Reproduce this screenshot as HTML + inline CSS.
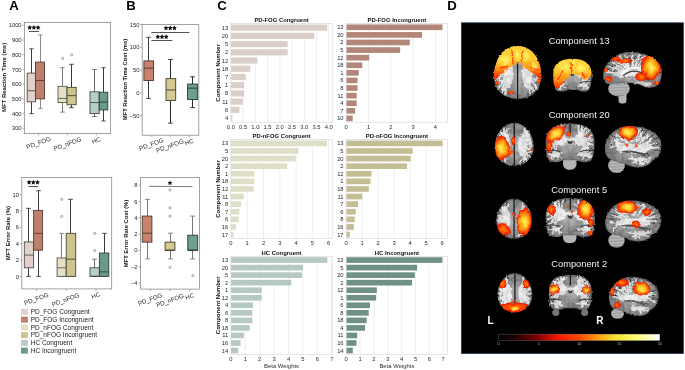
<!DOCTYPE html>
<html><head><meta charset="utf-8"><style>
html,body{margin:0;padding:0;background:#fff;width:685px;height:370px;overflow:hidden}
svg{display:block;opacity:0.999}
text{font-family:"Liberation Sans", sans-serif}
</style></head><body>
<svg width="685" height="370" viewBox="0 0 685 370">
<rect width="685" height="370" fill="#fff"/>
<text x="9.30" y="10.30" font-size="13.2" text-anchor="start" font-weight="bold" fill="#000">A</text>
<text x="126.30" y="10.30" font-size="13.2" text-anchor="start" font-weight="bold" fill="#000">B</text>
<text x="217.20" y="10.30" font-size="13.2" text-anchor="start" font-weight="bold" fill="#000">C</text>
<text x="447.20" y="10.30" font-size="13.2" text-anchor="start" font-weight="bold" fill="#000">D</text>
<rect x="24.40" y="22.40" width="86.20" height="111.00" fill="none" stroke="#8c8c8c" stroke-width="0.8"/>
<line x1="22.40" y1="128.30" x2="24.40" y2="128.30" stroke="#8c8c8c" stroke-width="0.7"/>
<text x="21.60" y="130.40" font-size="5.8" text-anchor="end" font-weight="normal" fill="#262626">300</text>
<line x1="22.40" y1="113.59" x2="24.40" y2="113.59" stroke="#8c8c8c" stroke-width="0.7"/>
<text x="21.60" y="115.69" font-size="5.8" text-anchor="end" font-weight="normal" fill="#262626">400</text>
<line x1="22.40" y1="98.87" x2="24.40" y2="98.87" stroke="#8c8c8c" stroke-width="0.7"/>
<text x="21.60" y="100.97" font-size="5.8" text-anchor="end" font-weight="normal" fill="#262626">500</text>
<line x1="22.40" y1="84.16" x2="24.40" y2="84.16" stroke="#8c8c8c" stroke-width="0.7"/>
<text x="21.60" y="86.26" font-size="5.8" text-anchor="end" font-weight="normal" fill="#262626">600</text>
<line x1="22.40" y1="69.44" x2="24.40" y2="69.44" stroke="#8c8c8c" stroke-width="0.7"/>
<text x="21.60" y="71.54" font-size="5.8" text-anchor="end" font-weight="normal" fill="#262626">700</text>
<line x1="22.40" y1="54.73" x2="24.40" y2="54.73" stroke="#8c8c8c" stroke-width="0.7"/>
<text x="21.60" y="56.83" font-size="5.8" text-anchor="end" font-weight="normal" fill="#262626">800</text>
<line x1="22.40" y1="40.02" x2="24.40" y2="40.02" stroke="#8c8c8c" stroke-width="0.7"/>
<text x="21.60" y="42.12" font-size="5.8" text-anchor="end" font-weight="normal" fill="#262626">900</text>
<line x1="22.40" y1="25.30" x2="24.40" y2="25.30" stroke="#8c8c8c" stroke-width="0.7"/>
<text x="21.60" y="27.40" font-size="5.8" text-anchor="end" font-weight="normal" fill="#262626">1000</text>
<line x1="38.40" y1="133.40" x2="38.40" y2="135.40" stroke="#8c8c8c" stroke-width="0.7"/>
<line x1="67.40" y1="133.40" x2="67.40" y2="135.40" stroke="#8c8c8c" stroke-width="0.7"/>
<line x1="96.30" y1="133.40" x2="96.30" y2="135.40" stroke="#8c8c8c" stroke-width="0.7"/>
<line x1="31.50" y1="73.12" x2="31.50" y2="48.84" stroke="#3a3a3a" stroke-width="1.0"/>
<line x1="31.50" y1="101.81" x2="31.50" y2="113.59" stroke="#3a3a3a" stroke-width="1.0"/>
<line x1="29.43" y1="48.84" x2="33.58" y2="48.84" stroke="#3a3a3a" stroke-width="0.9"/>
<line x1="29.43" y1="113.59" x2="33.58" y2="113.59" stroke="#3a3a3a" stroke-width="0.9"/>
<rect x="27.20" y="73.12" width="8.30" height="28.69" fill="#e2d1ca" stroke="#4d4d4d" stroke-width="0.9"/>
<line x1="27.20" y1="90.78" x2="35.50" y2="90.78" stroke="#4d4d4d" stroke-width="0.9"/>
<line x1="40.50" y1="62.09" x2="40.50" y2="34.87" stroke="#8a8a8a" stroke-width="1.0"/>
<line x1="40.50" y1="98.87" x2="40.50" y2="108.44" stroke="#8a8a8a" stroke-width="1.0"/>
<line x1="38.25" y1="34.87" x2="42.75" y2="34.87" stroke="#8a8a8a" stroke-width="0.9"/>
<line x1="38.25" y1="108.44" x2="42.75" y2="108.44" stroke="#8a8a8a" stroke-width="0.9"/>
<rect x="35.50" y="62.09" width="9.00" height="36.78" fill="#bd806d" stroke="#5a3a32" stroke-width="0.9"/>
<line x1="35.50" y1="80.48" x2="44.50" y2="80.48" stroke="#5a3a32" stroke-width="0.9"/>
<line x1="62.50" y1="86.37" x2="62.50" y2="67.68" stroke="#777" stroke-width="1.0"/>
<line x1="62.50" y1="102.55" x2="62.50" y2="112.11" stroke="#777" stroke-width="1.0"/>
<line x1="60.25" y1="67.68" x2="64.75" y2="67.68" stroke="#777" stroke-width="0.9"/>
<line x1="60.25" y1="112.11" x2="64.75" y2="112.11" stroke="#777" stroke-width="0.9"/>
<rect x="58.00" y="86.37" width="9.00" height="16.19" fill="#e3e0c6" stroke="#5a5a4a" stroke-width="0.9"/>
<line x1="58.00" y1="98.43" x2="67.00" y2="98.43" stroke="#5a5a4a" stroke-width="0.9"/>
<line x1="71.50" y1="87.40" x2="71.50" y2="64.29" stroke="#3a3a3a" stroke-width="1.0"/>
<line x1="71.50" y1="104.76" x2="71.50" y2="107.70" stroke="#3a3a3a" stroke-width="1.0"/>
<line x1="69.20" y1="64.29" x2="73.80" y2="64.29" stroke="#3a3a3a" stroke-width="0.9"/>
<line x1="69.20" y1="107.70" x2="73.80" y2="107.70" stroke="#3a3a3a" stroke-width="0.9"/>
<rect x="67.00" y="87.40" width="9.20" height="17.36" fill="#cdc58d" stroke="#4a4535" stroke-width="0.9"/>
<line x1="67.00" y1="95.63" x2="76.20" y2="95.63" stroke="#4a4535" stroke-width="0.9"/>
<circle cx="62.6" cy="58.41" r="1.1" fill="none" stroke="#555" stroke-width="0.5"/>
<circle cx="71.6" cy="54.73" r="1.1" fill="none" stroke="#555" stroke-width="0.5"/>
<line x1="94.50" y1="91.81" x2="94.50" y2="69.44" stroke="#666" stroke-width="1.0"/>
<line x1="94.50" y1="113.59" x2="94.50" y2="116.53" stroke="#666" stroke-width="1.0"/>
<line x1="92.20" y1="69.44" x2="96.80" y2="69.44" stroke="#666" stroke-width="0.9"/>
<line x1="92.20" y1="116.53" x2="96.80" y2="116.53" stroke="#666" stroke-width="0.9"/>
<rect x="90.00" y="91.81" width="9.20" height="21.78" fill="#b9cdc7" stroke="#3f4a47" stroke-width="0.9"/>
<line x1="90.00" y1="102.55" x2="99.20" y2="102.55" stroke="#3f4a47" stroke-width="0.9"/>
<line x1="103.50" y1="92.25" x2="103.50" y2="67.68" stroke="#3a3a3a" stroke-width="1.0"/>
<line x1="103.50" y1="109.91" x2="103.50" y2="120.94" stroke="#3a3a3a" stroke-width="1.0"/>
<line x1="101.35" y1="67.68" x2="105.65" y2="67.68" stroke="#3a3a3a" stroke-width="0.9"/>
<line x1="101.35" y1="120.94" x2="105.65" y2="120.94" stroke="#3a3a3a" stroke-width="0.9"/>
<rect x="99.20" y="92.25" width="8.60" height="17.66" fill="#6b9a8a" stroke="#2f3d38" stroke-width="0.9"/>
<line x1="99.20" y1="102.11" x2="107.80" y2="102.11" stroke="#2f3d38" stroke-width="0.9"/>
<polygon points="29.70,25.05 30.45,26.57 32.13,26.81 30.91,27.99 31.20,29.66 29.70,28.88 28.20,29.66 28.49,27.99 27.27,26.81 28.95,26.57" fill="#111"/>
<polygon points="33.90,25.05 34.65,26.57 36.33,26.81 35.11,27.99 35.40,29.66 33.90,28.88 32.40,29.66 32.69,27.99 31.47,26.81 33.15,26.57" fill="#111"/>
<polygon points="38.10,25.05 38.85,26.57 40.53,26.81 39.31,27.99 39.60,29.66 38.10,28.88 36.60,29.66 36.89,27.99 35.67,26.81 37.35,26.57" fill="#111"/>
<line x1="29.00" y1="31.50" x2="39.00" y2="31.50" stroke="#333" stroke-width="0.85"/>
<text x="5.70" y="77.50" font-size="6.0" text-anchor="middle" font-weight="bold" fill="#111" transform="rotate(-90 5.70 77.50)">MFT Reaction Time (ms)</text>
<text x="39.30" y="144.80" font-size="6.2" text-anchor="middle" font-weight="normal" fill="#262626" transform="rotate(-20 39.30 144.80)">PD_FOG</text>
<text x="68.20" y="145.90" font-size="6.2" text-anchor="middle" font-weight="normal" fill="#262626" transform="rotate(-20 68.20 145.90)">PD_nFOG</text>
<text x="96.90" y="142.40" font-size="6.2" text-anchor="middle" font-weight="normal" fill="#262626" transform="rotate(-20 96.90 142.40)">HC</text>
<rect x="21.80" y="177.40" width="89.90" height="111.50" fill="none" stroke="#8c8c8c" stroke-width="0.8"/>
<line x1="19.80" y1="276.40" x2="21.80" y2="276.40" stroke="#8c8c8c" stroke-width="0.7"/>
<text x="19.00" y="278.50" font-size="5.8" text-anchor="end" font-weight="normal" fill="#262626">0</text>
<line x1="19.80" y1="260.00" x2="21.80" y2="260.00" stroke="#8c8c8c" stroke-width="0.7"/>
<text x="19.00" y="262.10" font-size="5.8" text-anchor="end" font-weight="normal" fill="#262626">2</text>
<line x1="19.80" y1="243.60" x2="21.80" y2="243.60" stroke="#8c8c8c" stroke-width="0.7"/>
<text x="19.00" y="245.70" font-size="5.8" text-anchor="end" font-weight="normal" fill="#262626">4</text>
<line x1="19.80" y1="227.20" x2="21.80" y2="227.20" stroke="#8c8c8c" stroke-width="0.7"/>
<text x="19.00" y="229.30" font-size="5.8" text-anchor="end" font-weight="normal" fill="#262626">6</text>
<line x1="19.80" y1="210.80" x2="21.80" y2="210.80" stroke="#8c8c8c" stroke-width="0.7"/>
<text x="19.00" y="212.90" font-size="5.8" text-anchor="end" font-weight="normal" fill="#262626">8</text>
<line x1="19.80" y1="194.40" x2="21.80" y2="194.40" stroke="#8c8c8c" stroke-width="0.7"/>
<text x="19.00" y="196.50" font-size="5.8" text-anchor="end" font-weight="normal" fill="#262626">10</text>
<line x1="36.50" y1="288.90" x2="36.50" y2="290.90" stroke="#8c8c8c" stroke-width="0.7"/>
<line x1="66.20" y1="288.90" x2="66.20" y2="290.90" stroke="#8c8c8c" stroke-width="0.7"/>
<line x1="96.00" y1="288.90" x2="96.00" y2="290.90" stroke="#8c8c8c" stroke-width="0.7"/>
<line x1="28.50" y1="241.96" x2="28.50" y2="208.34" stroke="#3a3a3a" stroke-width="1.0"/>
<line x1="28.50" y1="267.79" x2="28.50" y2="276.40" stroke="#3a3a3a" stroke-width="1.0"/>
<line x1="26.18" y1="208.34" x2="30.82" y2="208.34" stroke="#3a3a3a" stroke-width="0.9"/>
<line x1="26.18" y1="276.40" x2="30.82" y2="276.40" stroke="#3a3a3a" stroke-width="0.9"/>
<rect x="24.30" y="241.96" width="9.30" height="25.83" fill="#e2d1ca" stroke="#4d4d4d" stroke-width="0.9"/>
<line x1="24.30" y1="255.08" x2="33.60" y2="255.08" stroke="#4d4d4d" stroke-width="0.9"/>
<line x1="38.50" y1="210.39" x2="38.50" y2="190.71" stroke="#3a3a3a" stroke-width="1.0"/>
<line x1="38.50" y1="250.16" x2="38.50" y2="276.40" stroke="#3a3a3a" stroke-width="1.0"/>
<line x1="36.25" y1="190.71" x2="40.75" y2="190.71" stroke="#3a3a3a" stroke-width="0.9"/>
<line x1="36.25" y1="276.40" x2="40.75" y2="276.40" stroke="#3a3a3a" stroke-width="0.9"/>
<rect x="33.60" y="210.39" width="9.00" height="39.77" fill="#bd806d" stroke="#5a3a32" stroke-width="0.9"/>
<line x1="33.60" y1="233.35" x2="42.60" y2="233.35" stroke="#5a3a32" stroke-width="0.9"/>
<line x1="61.50" y1="257.95" x2="61.50" y2="233.35" stroke="#777" stroke-width="1.0"/>
<line x1="61.50" y1="276.40" x2="61.50" y2="276.40" stroke="#777" stroke-width="1.0"/>
<line x1="59.23" y1="233.35" x2="63.77" y2="233.35" stroke="#777" stroke-width="0.9"/>
<line x1="59.23" y1="276.40" x2="63.77" y2="276.40" stroke="#777" stroke-width="0.9"/>
<rect x="57.10" y="257.95" width="9.10" height="18.45" fill="#e3e0c6" stroke="#5a5a4a" stroke-width="0.9"/>
<line x1="57.10" y1="267.79" x2="66.20" y2="267.79" stroke="#5a5a4a" stroke-width="0.9"/>
<circle cx="61.7" cy="216.54" r="1.1" fill="none" stroke="#555" stroke-width="0.5"/>
<circle cx="61.7" cy="199.32" r="1.1" fill="none" stroke="#555" stroke-width="0.5"/>
<line x1="70.50" y1="233.35" x2="70.50" y2="199.32" stroke="#3a3a3a" stroke-width="1.0"/>
<line x1="70.50" y1="276.40" x2="70.50" y2="276.40" stroke="#3a3a3a" stroke-width="1.0"/>
<line x1="68.12" y1="199.32" x2="72.88" y2="199.32" stroke="#3a3a3a" stroke-width="0.9"/>
<line x1="68.12" y1="276.40" x2="72.88" y2="276.40" stroke="#3a3a3a" stroke-width="0.9"/>
<rect x="66.20" y="233.35" width="9.50" height="43.05" fill="#cdc58d" stroke="#4a4535" stroke-width="0.9"/>
<line x1="66.20" y1="259.18" x2="75.70" y2="259.18" stroke="#4a4535" stroke-width="0.9"/>
<line x1="94.50" y1="267.79" x2="94.50" y2="259.18" stroke="#666" stroke-width="1.0"/>
<line x1="94.50" y1="276.40" x2="94.50" y2="276.40" stroke="#666" stroke-width="1.0"/>
<line x1="92.15" y1="259.18" x2="96.85" y2="259.18" stroke="#666" stroke-width="0.9"/>
<line x1="92.15" y1="276.40" x2="96.85" y2="276.40" stroke="#666" stroke-width="0.9"/>
<rect x="90.00" y="267.79" width="9.40" height="8.61" fill="#b9cdc7" stroke="#3f4a47" stroke-width="0.9"/>
<line x1="90.00" y1="276.24" x2="99.40" y2="276.24" stroke="#3f4a47" stroke-width="0.9"/>
<circle cx="94.7" cy="250.57" r="1.1" fill="none" stroke="#555" stroke-width="0.5"/>
<circle cx="94.7" cy="233.35" r="1.1" fill="none" stroke="#555" stroke-width="0.5"/>
<line x1="104.50" y1="253.03" x2="104.50" y2="233.35" stroke="#3a3a3a" stroke-width="1.0"/>
<line x1="104.50" y1="276.40" x2="104.50" y2="276.40" stroke="#3a3a3a" stroke-width="1.0"/>
<line x1="102.15" y1="233.35" x2="106.85" y2="233.35" stroke="#3a3a3a" stroke-width="0.9"/>
<line x1="102.15" y1="276.40" x2="106.85" y2="276.40" stroke="#3a3a3a" stroke-width="0.9"/>
<rect x="99.40" y="253.03" width="9.40" height="23.37" fill="#6b9a8a" stroke="#2f3d38" stroke-width="0.9"/>
<line x1="99.40" y1="271.89" x2="108.80" y2="271.89" stroke="#2f3d38" stroke-width="0.9"/>
<polygon points="29.10,179.85 29.85,181.37 31.53,181.61 30.31,182.79 30.60,184.46 29.10,183.68 27.60,184.46 27.89,182.79 26.67,181.61 28.35,181.37" fill="#111"/>
<polygon points="33.30,179.85 34.05,181.37 35.73,181.61 34.51,182.79 34.80,184.46 33.30,183.68 31.80,184.46 32.09,182.79 30.87,181.61 32.55,181.37" fill="#111"/>
<polygon points="37.50,179.85 38.25,181.37 39.93,181.61 38.71,182.79 39.00,184.46 37.50,183.68 36.00,184.46 36.29,182.79 35.07,181.61 36.75,181.37" fill="#111"/>
<line x1="28.40" y1="186.50" x2="38.10" y2="186.50" stroke="#333" stroke-width="0.85"/>
<text x="9.90" y="233.20" font-size="6.0" text-anchor="middle" font-weight="bold" fill="#111" transform="rotate(-90 9.90 233.20)">MFT Error Rate (%)</text>
<text x="37.00" y="300.80" font-size="6.2" text-anchor="middle" font-weight="normal" fill="#262626" transform="rotate(-20 37.00 300.80)">PD_FOG</text>
<text x="66.30" y="301.70" font-size="6.2" text-anchor="middle" font-weight="normal" fill="#262626" transform="rotate(-20 66.30 301.70)">PD_nFOG</text>
<text x="96.50" y="297.60" font-size="6.2" text-anchor="middle" font-weight="normal" fill="#262626" transform="rotate(-20 96.50 297.60)">HC</text>
<rect x="21.00" y="308.90" width="6.90" height="6.00" fill="#e2d1ca" stroke="none" stroke-width="0"/>
<text x="30.70" y="314.20" font-size="6.5" text-anchor="start" font-weight="normal" fill="#222">PD_FOG Congruent</text>
<rect x="21.00" y="316.64" width="6.90" height="6.00" fill="#c07f6c" stroke="none" stroke-width="0"/>
<text x="30.70" y="321.94" font-size="6.5" text-anchor="start" font-weight="normal" fill="#222">PD_FOG Incongruent</text>
<rect x="21.00" y="324.38" width="6.90" height="6.00" fill="#e3e0c6" stroke="none" stroke-width="0"/>
<text x="30.70" y="329.68" font-size="6.5" text-anchor="start" font-weight="normal" fill="#222">PD_nFOG Congruent</text>
<rect x="21.00" y="332.12" width="6.90" height="6.00" fill="#cdc58d" stroke="none" stroke-width="0"/>
<text x="30.70" y="337.42" font-size="6.5" text-anchor="start" font-weight="normal" fill="#222">PD_nFOG Incongruent</text>
<rect x="21.00" y="339.86" width="6.90" height="6.00" fill="#b9cdc7" stroke="none" stroke-width="0"/>
<text x="30.70" y="345.16" font-size="6.5" text-anchor="start" font-weight="normal" fill="#222">HC Congruent</text>
<rect x="21.00" y="347.60" width="6.90" height="6.00" fill="#6b9a8a" stroke="none" stroke-width="0"/>
<text x="30.70" y="352.90" font-size="6.5" text-anchor="start" font-weight="normal" fill="#222">HC Incongruent</text>
<rect x="142.20" y="24.40" width="56.60" height="110.80" fill="none" stroke="#8c8c8c" stroke-width="0.8"/>
<line x1="140.20" y1="115.40" x2="142.20" y2="115.40" stroke="#8c8c8c" stroke-width="0.7"/>
<text x="139.40" y="117.50" font-size="5.8" text-anchor="end" font-weight="normal" fill="#262626">−50</text>
<line x1="140.20" y1="92.70" x2="142.20" y2="92.70" stroke="#8c8c8c" stroke-width="0.7"/>
<text x="139.40" y="94.80" font-size="5.8" text-anchor="end" font-weight="normal" fill="#262626">0</text>
<line x1="140.20" y1="70.00" x2="142.20" y2="70.00" stroke="#8c8c8c" stroke-width="0.7"/>
<text x="139.40" y="72.10" font-size="5.8" text-anchor="end" font-weight="normal" fill="#262626">50</text>
<line x1="140.20" y1="47.30" x2="142.20" y2="47.30" stroke="#8c8c8c" stroke-width="0.7"/>
<text x="139.40" y="49.40" font-size="5.8" text-anchor="end" font-weight="normal" fill="#262626">100</text>
<line x1="140.20" y1="24.60" x2="142.20" y2="24.60" stroke="#8c8c8c" stroke-width="0.7"/>
<text x="139.40" y="26.70" font-size="5.8" text-anchor="end" font-weight="normal" fill="#262626">150</text>
<line x1="151.80" y1="135.20" x2="151.80" y2="137.20" stroke="#8c8c8c" stroke-width="0.7"/>
<line x1="170.40" y1="135.20" x2="170.40" y2="137.20" stroke="#8c8c8c" stroke-width="0.7"/>
<line x1="189.40" y1="135.20" x2="189.40" y2="137.20" stroke="#8c8c8c" stroke-width="0.7"/>
<line x1="148.50" y1="60.92" x2="148.50" y2="37.31" stroke="#3a3a3a" stroke-width="1.0"/>
<line x1="148.50" y1="80.44" x2="148.50" y2="98.60" stroke="#3a3a3a" stroke-width="1.0"/>
<line x1="146.07" y1="37.31" x2="150.93" y2="37.31" stroke="#3a3a3a" stroke-width="0.9"/>
<line x1="146.07" y1="98.60" x2="150.93" y2="98.60" stroke="#3a3a3a" stroke-width="0.9"/>
<rect x="143.90" y="60.92" width="9.70" height="19.52" fill="#c8826e" stroke="#4a3530" stroke-width="0.9"/>
<line x1="143.90" y1="68.18" x2="153.60" y2="68.18" stroke="#4a3530" stroke-width="0.9"/>
<line x1="170.50" y1="78.63" x2="170.50" y2="59.56" stroke="#2a2a2a" stroke-width="1.0"/>
<line x1="170.50" y1="100.42" x2="170.50" y2="123.12" stroke="#2a2a2a" stroke-width="1.0"/>
<line x1="168.07" y1="59.56" x2="172.93" y2="59.56" stroke="#2a2a2a" stroke-width="0.9"/>
<line x1="168.07" y1="123.12" x2="172.93" y2="123.12" stroke="#2a2a2a" stroke-width="0.9"/>
<rect x="166.00" y="78.63" width="9.70" height="21.79" fill="#d5ca8f" stroke="#3f3b2b" stroke-width="0.9"/>
<line x1="166.00" y1="89.98" x2="175.70" y2="89.98" stroke="#3f3b2b" stroke-width="0.9"/>
<line x1="192.50" y1="84.07" x2="192.50" y2="76.81" stroke="#2a2a2a" stroke-width="1.0"/>
<line x1="192.50" y1="99.51" x2="192.50" y2="107.68" stroke="#2a2a2a" stroke-width="1.0"/>
<line x1="190.05" y1="76.81" x2="194.95" y2="76.81" stroke="#2a2a2a" stroke-width="0.9"/>
<line x1="190.05" y1="107.68" x2="194.95" y2="107.68" stroke="#2a2a2a" stroke-width="0.9"/>
<rect x="187.60" y="84.07" width="9.80" height="15.44" fill="#6fa08e" stroke="#26352f" stroke-width="0.9"/>
<line x1="187.60" y1="88.16" x2="197.40" y2="88.16" stroke="#26352f" stroke-width="0.9"/>
<line x1="151.40" y1="32.50" x2="189.40" y2="32.50" stroke="#333" stroke-width="0.85"/>
<polygon points="166.00,25.55 166.75,27.07 168.43,27.31 167.21,28.49 167.50,30.16 166.00,29.38 164.50,30.16 164.79,28.49 163.57,27.31 165.25,27.07" fill="#111"/>
<polygon points="170.20,25.55 170.95,27.07 172.63,27.31 171.41,28.49 171.70,30.16 170.20,29.38 168.70,30.16 168.99,28.49 167.77,27.31 169.45,27.07" fill="#111"/>
<polygon points="174.40,25.55 175.15,27.07 176.83,27.31 175.61,28.49 175.90,30.16 174.40,29.38 172.90,30.16 173.19,28.49 171.97,27.31 173.65,27.07" fill="#111"/>
<line x1="151.40" y1="40.50" x2="172.30" y2="40.50" stroke="#333" stroke-width="0.85"/>
<polygon points="157.80,34.35 158.55,35.87 160.23,36.11 159.01,37.29 159.30,38.96 157.80,38.17 156.30,38.96 156.59,37.29 155.37,36.11 157.05,35.87" fill="#111"/>
<polygon points="162.00,34.35 162.75,35.87 164.43,36.11 163.21,37.29 163.50,38.96 162.00,38.17 160.50,38.96 160.79,37.29 159.57,36.11 161.25,35.87" fill="#111"/>
<polygon points="166.20,34.35 166.95,35.87 168.63,36.11 167.41,37.29 167.70,38.96 166.20,38.17 164.70,38.96 164.99,37.29 163.77,36.11 165.45,35.87" fill="#111"/>
<text x="127.00" y="79.50" font-size="5.8" text-anchor="middle" font-weight="bold" fill="#111" transform="rotate(-90 127.00 79.50)">MFT Reaction Time Cost (ms)</text>
<text x="152.00" y="146.30" font-size="6.2" text-anchor="middle" font-weight="normal" fill="#262626" transform="rotate(-20 152.00 146.30)">PD_FOG</text>
<text x="170.60" y="147.80" font-size="6.2" text-anchor="middle" font-weight="normal" fill="#262626" transform="rotate(-20 170.60 147.80)">PD_nFOG</text>
<text x="189.90" y="144.00" font-size="6.2" text-anchor="middle" font-weight="normal" fill="#262626" transform="rotate(-20 189.90 144.00)">HC</text>
<rect x="140.40" y="177.60" width="59.20" height="111.50" fill="none" stroke="#8c8c8c" stroke-width="0.8"/>
<line x1="138.40" y1="282.90" x2="140.40" y2="282.90" stroke="#8c8c8c" stroke-width="0.7"/>
<text x="137.60" y="285.00" font-size="5.8" text-anchor="end" font-weight="normal" fill="#262626">−4</text>
<line x1="138.40" y1="266.60" x2="140.40" y2="266.60" stroke="#8c8c8c" stroke-width="0.7"/>
<text x="137.60" y="268.70" font-size="5.8" text-anchor="end" font-weight="normal" fill="#262626">−2</text>
<line x1="138.40" y1="250.30" x2="140.40" y2="250.30" stroke="#8c8c8c" stroke-width="0.7"/>
<text x="137.60" y="252.40" font-size="5.8" text-anchor="end" font-weight="normal" fill="#262626">0</text>
<line x1="138.40" y1="234.00" x2="140.40" y2="234.00" stroke="#8c8c8c" stroke-width="0.7"/>
<text x="137.60" y="236.10" font-size="5.8" text-anchor="end" font-weight="normal" fill="#262626">2</text>
<line x1="138.40" y1="217.70" x2="140.40" y2="217.70" stroke="#8c8c8c" stroke-width="0.7"/>
<text x="137.60" y="219.80" font-size="5.8" text-anchor="end" font-weight="normal" fill="#262626">4</text>
<line x1="138.40" y1="201.40" x2="140.40" y2="201.40" stroke="#8c8c8c" stroke-width="0.7"/>
<text x="137.60" y="203.50" font-size="5.8" text-anchor="end" font-weight="normal" fill="#262626">6</text>
<line x1="138.40" y1="185.10" x2="140.40" y2="185.10" stroke="#8c8c8c" stroke-width="0.7"/>
<text x="137.60" y="187.20" font-size="5.8" text-anchor="end" font-weight="normal" fill="#262626">8</text>
<line x1="150.50" y1="289.10" x2="150.50" y2="291.10" stroke="#8c8c8c" stroke-width="0.7"/>
<line x1="170.30" y1="289.10" x2="170.30" y2="291.10" stroke="#8c8c8c" stroke-width="0.7"/>
<line x1="189.80" y1="289.10" x2="189.80" y2="291.10" stroke="#8c8c8c" stroke-width="0.7"/>
<line x1="147.50" y1="216.07" x2="147.50" y2="199.36" stroke="#777" stroke-width="1.0"/>
<line x1="147.50" y1="242.15" x2="147.50" y2="258.86" stroke="#777" stroke-width="1.0"/>
<line x1="145.07" y1="199.36" x2="149.93" y2="199.36" stroke="#777" stroke-width="0.9"/>
<line x1="145.07" y1="258.86" x2="149.93" y2="258.86" stroke="#777" stroke-width="0.9"/>
<rect x="142.20" y="216.07" width="9.70" height="26.08" fill="#c8826e" stroke="#4a3530" stroke-width="0.9"/>
<line x1="142.20" y1="233.19" x2="151.90" y2="233.19" stroke="#4a3530" stroke-width="0.9"/>
<line x1="170.50" y1="242.15" x2="170.50" y2="233.19" stroke="#777" stroke-width="1.0"/>
<line x1="170.50" y1="250.30" x2="170.50" y2="258.86" stroke="#777" stroke-width="1.0"/>
<line x1="168.05" y1="233.19" x2="172.95" y2="233.19" stroke="#777" stroke-width="0.9"/>
<line x1="168.05" y1="258.86" x2="172.95" y2="258.86" stroke="#777" stroke-width="0.9"/>
<rect x="165.10" y="242.15" width="9.80" height="8.15" fill="#d5ca8f" stroke="#3f3b2b" stroke-width="0.9"/>
<line x1="165.10" y1="250.14" x2="174.90" y2="250.14" stroke="#3f3b2b" stroke-width="0.9"/>
<circle cx="170.0" cy="189.99" r="1.1" fill="none" stroke="#555" stroke-width="0.5"/>
<circle cx="170.0" cy="207.92" r="1.1" fill="none" stroke="#555" stroke-width="0.5"/>
<circle cx="170.0" cy="216.07" r="1.1" fill="none" stroke="#555" stroke-width="0.5"/>
<circle cx="170.0" cy="267.42" r="1.1" fill="none" stroke="#555" stroke-width="0.5"/>
<line x1="192.50" y1="235.22" x2="192.50" y2="216.07" stroke="#777" stroke-width="1.0"/>
<line x1="192.50" y1="250.30" x2="192.50" y2="258.86" stroke="#777" stroke-width="1.0"/>
<line x1="190.03" y1="216.07" x2="194.97" y2="216.07" stroke="#777" stroke-width="0.9"/>
<line x1="190.03" y1="258.86" x2="194.97" y2="258.86" stroke="#777" stroke-width="0.9"/>
<rect x="187.80" y="235.22" width="9.90" height="15.08" fill="#6fa08e" stroke="#26352f" stroke-width="0.9"/>
<line x1="187.80" y1="250.14" x2="197.70" y2="250.14" stroke="#26352f" stroke-width="0.9"/>
<circle cx="192.8" cy="275.56" r="1.1" fill="none" stroke="#555" stroke-width="0.5"/>
<line x1="149.10" y1="186.30" x2="192.50" y2="186.60" stroke="#555" stroke-width="0.8"/>
<polygon points="170.00,180.45 170.75,181.97 172.43,182.21 171.21,183.39 171.50,185.06 170.00,184.28 168.50,185.06 168.79,183.39 167.57,182.21 169.25,181.97" fill="#111"/>
<text x="127.60" y="233.50" font-size="5.85" text-anchor="middle" font-weight="bold" fill="#111" transform="rotate(-90 127.60 233.50)">MFT Error Rate Cost (%)</text>
<text x="150.90" y="301.30" font-size="6.2" text-anchor="middle" font-weight="normal" fill="#262626" transform="rotate(-20 150.90 301.30)">PD_FOG</text>
<text x="170.80" y="302.40" font-size="6.2" text-anchor="middle" font-weight="normal" fill="#262626" transform="rotate(-20 170.80 302.40)">PD_nFOG</text>
<text x="190.50" y="298.40" font-size="6.2" text-anchor="middle" font-weight="normal" fill="#262626" transform="rotate(-20 190.50 298.40)">HC</text>
<line x1="243.12" y1="23.50" x2="243.12" y2="122.20" stroke="#e6e6e6" stroke-width="0.7"/>
<line x1="255.35" y1="23.50" x2="255.35" y2="122.20" stroke="#e6e6e6" stroke-width="0.7"/>
<line x1="267.57" y1="23.50" x2="267.57" y2="122.20" stroke="#e6e6e6" stroke-width="0.7"/>
<line x1="279.80" y1="23.50" x2="279.80" y2="122.20" stroke="#e6e6e6" stroke-width="0.7"/>
<line x1="292.02" y1="23.50" x2="292.02" y2="122.20" stroke="#e6e6e6" stroke-width="0.7"/>
<line x1="304.25" y1="23.50" x2="304.25" y2="122.20" stroke="#e6e6e6" stroke-width="0.7"/>
<line x1="316.48" y1="23.50" x2="316.48" y2="122.20" stroke="#e6e6e6" stroke-width="0.7"/>
<line x1="328.70" y1="23.50" x2="328.70" y2="122.20" stroke="#e6e6e6" stroke-width="0.7"/>
<rect x="230.90" y="24.53" width="96.33" height="6.17" fill="#dccfca" stroke="none" stroke-width="0"/>
<text x="228.30" y="29.61" font-size="5.8" text-anchor="end" font-weight="normal" fill="#2b2b2b">13</text>
<rect x="230.90" y="32.75" width="83.37" height="6.17" fill="#dccfca" stroke="none" stroke-width="0"/>
<text x="228.30" y="37.84" font-size="5.8" text-anchor="end" font-weight="normal" fill="#2b2b2b">20</text>
<rect x="230.90" y="40.98" width="56.72" height="6.17" fill="#dccfca" stroke="none" stroke-width="0"/>
<text x="228.30" y="46.06" font-size="5.8" text-anchor="end" font-weight="normal" fill="#2b2b2b">5</text>
<rect x="230.90" y="49.20" width="56.72" height="6.17" fill="#dccfca" stroke="none" stroke-width="0"/>
<text x="228.30" y="54.29" font-size="5.8" text-anchor="end" font-weight="normal" fill="#2b2b2b">2</text>
<rect x="230.90" y="57.43" width="26.65" height="6.17" fill="#dccfca" stroke="none" stroke-width="0"/>
<text x="228.30" y="62.51" font-size="5.8" text-anchor="end" font-weight="normal" fill="#2b2b2b">12</text>
<rect x="230.90" y="65.65" width="19.32" height="6.17" fill="#dccfca" stroke="none" stroke-width="0"/>
<text x="228.30" y="70.74" font-size="5.8" text-anchor="end" font-weight="normal" fill="#2b2b2b">18</text>
<rect x="230.90" y="73.88" width="14.91" height="6.17" fill="#dccfca" stroke="none" stroke-width="0"/>
<text x="228.30" y="78.96" font-size="5.8" text-anchor="end" font-weight="normal" fill="#2b2b2b">7</text>
<rect x="230.90" y="82.10" width="13.20" height="6.17" fill="#dccfca" stroke="none" stroke-width="0"/>
<text x="228.30" y="87.19" font-size="5.8" text-anchor="end" font-weight="normal" fill="#2b2b2b">1</text>
<rect x="230.90" y="90.33" width="13.20" height="6.17" fill="#dccfca" stroke="none" stroke-width="0"/>
<text x="228.30" y="95.41" font-size="5.8" text-anchor="end" font-weight="normal" fill="#2b2b2b">8</text>
<rect x="230.90" y="98.55" width="11.98" height="6.17" fill="#dccfca" stroke="none" stroke-width="0"/>
<text x="228.30" y="103.64" font-size="5.8" text-anchor="end" font-weight="normal" fill="#2b2b2b">11</text>
<rect x="230.90" y="106.78" width="8.56" height="6.17" fill="#dccfca" stroke="none" stroke-width="0"/>
<text x="228.30" y="111.86" font-size="5.8" text-anchor="end" font-weight="normal" fill="#2b2b2b">6</text>
<rect x="230.90" y="115.00" width="1.47" height="6.17" fill="#dccfca" stroke="none" stroke-width="0"/>
<text x="228.30" y="120.09" font-size="5.8" text-anchor="end" font-weight="normal" fill="#2b2b2b">4</text>
<rect x="230.90" y="23.50" width="101.30" height="98.70" fill="none" stroke="#d9d9d9" stroke-width="0.7"/>
<text x="230.90" y="129.10" font-size="5.8" text-anchor="middle" font-weight="normal" fill="#2b2b2b">0.0</text>
<text x="243.12" y="129.10" font-size="5.8" text-anchor="middle" font-weight="normal" fill="#2b2b2b">0.5</text>
<text x="255.35" y="129.10" font-size="5.8" text-anchor="middle" font-weight="normal" fill="#2b2b2b">1.0</text>
<text x="267.57" y="129.10" font-size="5.8" text-anchor="middle" font-weight="normal" fill="#2b2b2b">1.5</text>
<text x="279.80" y="129.10" font-size="5.8" text-anchor="middle" font-weight="normal" fill="#2b2b2b">2.0</text>
<text x="292.02" y="129.10" font-size="5.8" text-anchor="middle" font-weight="normal" fill="#2b2b2b">2.5</text>
<text x="304.25" y="129.10" font-size="5.8" text-anchor="middle" font-weight="normal" fill="#2b2b2b">3.0</text>
<text x="316.48" y="129.10" font-size="5.8" text-anchor="middle" font-weight="normal" fill="#2b2b2b">3.5</text>
<text x="328.70" y="129.10" font-size="5.8" text-anchor="middle" font-weight="normal" fill="#2b2b2b">4.0</text>
<text x="281.55" y="22.00" font-size="5.9" text-anchor="middle" font-weight="bold" fill="#111">PD-FOG Congruent</text>
<line x1="368.50" y1="23.50" x2="368.50" y2="122.20" stroke="#e6e6e6" stroke-width="0.7"/>
<line x1="390.80" y1="23.50" x2="390.80" y2="122.20" stroke="#e6e6e6" stroke-width="0.7"/>
<line x1="413.10" y1="23.50" x2="413.10" y2="122.20" stroke="#e6e6e6" stroke-width="0.7"/>
<line x1="435.40" y1="23.50" x2="435.40" y2="122.20" stroke="#e6e6e6" stroke-width="0.7"/>
<rect x="346.20" y="24.45" width="96.34" height="5.69" fill="#b28779" stroke="none" stroke-width="0"/>
<text x="343.60" y="29.30" font-size="5.8" text-anchor="end" font-weight="normal" fill="#2b2b2b">13</text>
<rect x="346.20" y="32.04" width="75.82" height="5.69" fill="#b28779" stroke="none" stroke-width="0"/>
<text x="343.60" y="36.89" font-size="5.8" text-anchor="end" font-weight="normal" fill="#2b2b2b">20</text>
<rect x="346.20" y="39.63" width="63.56" height="5.69" fill="#b28779" stroke="none" stroke-width="0"/>
<text x="343.60" y="44.48" font-size="5.8" text-anchor="end" font-weight="normal" fill="#2b2b2b">2</text>
<rect x="346.20" y="47.23" width="53.97" height="5.69" fill="#b28779" stroke="none" stroke-width="0"/>
<text x="343.60" y="52.07" font-size="5.8" text-anchor="end" font-weight="normal" fill="#2b2b2b">5</text>
<rect x="346.20" y="54.82" width="22.97" height="5.69" fill="#b28779" stroke="none" stroke-width="0"/>
<text x="343.60" y="59.67" font-size="5.8" text-anchor="end" font-weight="normal" fill="#2b2b2b">12</text>
<rect x="346.20" y="62.41" width="16.06" height="5.69" fill="#b28779" stroke="none" stroke-width="0"/>
<text x="343.60" y="67.26" font-size="5.8" text-anchor="end" font-weight="normal" fill="#2b2b2b">18</text>
<rect x="346.20" y="70.00" width="12.49" height="5.69" fill="#b28779" stroke="none" stroke-width="0"/>
<text x="343.60" y="74.85" font-size="5.8" text-anchor="end" font-weight="normal" fill="#2b2b2b">1</text>
<rect x="346.20" y="77.60" width="11.37" height="5.69" fill="#b28779" stroke="none" stroke-width="0"/>
<text x="343.60" y="82.44" font-size="5.8" text-anchor="end" font-weight="normal" fill="#2b2b2b">6</text>
<rect x="346.20" y="85.19" width="11.37" height="5.69" fill="#b28779" stroke="none" stroke-width="0"/>
<text x="343.60" y="90.03" font-size="5.8" text-anchor="end" font-weight="normal" fill="#2b2b2b">8</text>
<rect x="346.20" y="92.78" width="10.48" height="5.69" fill="#b28779" stroke="none" stroke-width="0"/>
<text x="343.60" y="97.63" font-size="5.8" text-anchor="end" font-weight="normal" fill="#2b2b2b">11</text>
<rect x="346.20" y="100.37" width="10.48" height="5.69" fill="#b28779" stroke="none" stroke-width="0"/>
<text x="343.60" y="105.22" font-size="5.8" text-anchor="end" font-weight="normal" fill="#2b2b2b">4</text>
<rect x="346.20" y="107.96" width="8.92" height="5.69" fill="#b28779" stroke="none" stroke-width="0"/>
<text x="343.60" y="112.81" font-size="5.8" text-anchor="end" font-weight="normal" fill="#2b2b2b">7</text>
<rect x="346.20" y="115.56" width="6.47" height="5.69" fill="#b28779" stroke="none" stroke-width="0"/>
<text x="343.60" y="120.40" font-size="5.8" text-anchor="end" font-weight="normal" fill="#2b2b2b">10</text>
<rect x="346.20" y="23.50" width="101.40" height="98.70" fill="none" stroke="#d9d9d9" stroke-width="0.7"/>
<text x="346.20" y="129.10" font-size="5.8" text-anchor="middle" font-weight="normal" fill="#2b2b2b">0</text>
<text x="368.50" y="129.10" font-size="5.8" text-anchor="middle" font-weight="normal" fill="#2b2b2b">1</text>
<text x="390.80" y="129.10" font-size="5.8" text-anchor="middle" font-weight="normal" fill="#2b2b2b">2</text>
<text x="413.10" y="129.10" font-size="5.8" text-anchor="middle" font-weight="normal" fill="#2b2b2b">3</text>
<text x="435.40" y="129.10" font-size="5.8" text-anchor="middle" font-weight="normal" fill="#2b2b2b">4</text>
<text x="396.90" y="22.00" font-size="5.9" text-anchor="middle" font-weight="bold" fill="#111">PD-FOG Incongruent</text>
<line x1="247.20" y1="139.60" x2="247.20" y2="238.30" stroke="#e6e6e6" stroke-width="0.7"/>
<line x1="263.50" y1="139.60" x2="263.50" y2="238.30" stroke="#e6e6e6" stroke-width="0.7"/>
<line x1="279.80" y1="139.60" x2="279.80" y2="238.30" stroke="#e6e6e6" stroke-width="0.7"/>
<line x1="296.10" y1="139.60" x2="296.10" y2="238.30" stroke="#e6e6e6" stroke-width="0.7"/>
<line x1="312.40" y1="139.60" x2="312.40" y2="238.30" stroke="#e6e6e6" stroke-width="0.7"/>
<line x1="328.70" y1="139.60" x2="328.70" y2="238.30" stroke="#e6e6e6" stroke-width="0.7"/>
<rect x="230.90" y="140.55" width="96.17" height="5.69" fill="#dfdec8" stroke="none" stroke-width="0"/>
<text x="228.30" y="145.40" font-size="5.8" text-anchor="end" font-weight="normal" fill="#2b2b2b">13</text>
<rect x="230.90" y="148.14" width="67.65" height="5.69" fill="#dfdec8" stroke="none" stroke-width="0"/>
<text x="228.30" y="152.99" font-size="5.8" text-anchor="end" font-weight="normal" fill="#2b2b2b">5</text>
<rect x="230.90" y="155.73" width="64.79" height="5.69" fill="#dfdec8" stroke="none" stroke-width="0"/>
<text x="228.30" y="160.58" font-size="5.8" text-anchor="end" font-weight="normal" fill="#2b2b2b">20</text>
<rect x="230.90" y="163.33" width="56.24" height="5.69" fill="#dfdec8" stroke="none" stroke-width="0"/>
<text x="228.30" y="168.17" font-size="5.8" text-anchor="end" font-weight="normal" fill="#2b2b2b">2</text>
<rect x="230.90" y="170.92" width="23.55" height="5.69" fill="#dfdec8" stroke="none" stroke-width="0"/>
<text x="228.30" y="175.77" font-size="5.8" text-anchor="end" font-weight="normal" fill="#2b2b2b">1</text>
<rect x="230.90" y="178.51" width="23.55" height="5.69" fill="#dfdec8" stroke="none" stroke-width="0"/>
<text x="228.30" y="183.36" font-size="5.8" text-anchor="end" font-weight="normal" fill="#2b2b2b">18</text>
<rect x="230.90" y="186.10" width="22.90" height="5.69" fill="#dfdec8" stroke="none" stroke-width="0"/>
<text x="228.30" y="190.95" font-size="5.8" text-anchor="end" font-weight="normal" fill="#2b2b2b">12</text>
<rect x="230.90" y="193.70" width="12.91" height="5.69" fill="#dfdec8" stroke="none" stroke-width="0"/>
<text x="228.30" y="198.54" font-size="5.8" text-anchor="end" font-weight="normal" fill="#2b2b2b">11</text>
<rect x="230.90" y="201.29" width="10.15" height="5.69" fill="#dfdec8" stroke="none" stroke-width="0"/>
<text x="228.30" y="206.13" font-size="5.8" text-anchor="end" font-weight="normal" fill="#2b2b2b">8</text>
<rect x="230.90" y="208.88" width="8.56" height="5.69" fill="#dfdec8" stroke="none" stroke-width="0"/>
<text x="228.30" y="213.73" font-size="5.8" text-anchor="end" font-weight="normal" fill="#2b2b2b">7</text>
<rect x="230.90" y="216.47" width="7.74" height="5.69" fill="#dfdec8" stroke="none" stroke-width="0"/>
<text x="228.30" y="221.32" font-size="5.8" text-anchor="end" font-weight="normal" fill="#2b2b2b">6</text>
<rect x="230.90" y="224.06" width="5.17" height="5.69" fill="#dfdec8" stroke="none" stroke-width="0"/>
<text x="228.30" y="228.91" font-size="5.8" text-anchor="end" font-weight="normal" fill="#2b2b2b">16</text>
<rect x="230.90" y="231.66" width="2.74" height="5.69" fill="#dfdec8" stroke="none" stroke-width="0"/>
<text x="228.30" y="236.50" font-size="5.8" text-anchor="end" font-weight="normal" fill="#2b2b2b">17</text>
<rect x="230.90" y="139.60" width="101.30" height="98.70" fill="none" stroke="#d9d9d9" stroke-width="0.7"/>
<text x="230.90" y="245.20" font-size="5.8" text-anchor="middle" font-weight="normal" fill="#2b2b2b">0</text>
<text x="247.20" y="245.20" font-size="5.8" text-anchor="middle" font-weight="normal" fill="#2b2b2b">1</text>
<text x="263.50" y="245.20" font-size="5.8" text-anchor="middle" font-weight="normal" fill="#2b2b2b">2</text>
<text x="279.80" y="245.20" font-size="5.8" text-anchor="middle" font-weight="normal" fill="#2b2b2b">3</text>
<text x="296.10" y="245.20" font-size="5.8" text-anchor="middle" font-weight="normal" fill="#2b2b2b">4</text>
<text x="312.40" y="245.20" font-size="5.8" text-anchor="middle" font-weight="normal" fill="#2b2b2b">5</text>
<text x="328.70" y="245.20" font-size="5.8" text-anchor="middle" font-weight="normal" fill="#2b2b2b">6</text>
<text x="281.55" y="138.10" font-size="5.9" text-anchor="middle" font-weight="bold" fill="#111">PD-nFOG Congruent</text>
<line x1="362.18" y1="139.60" x2="362.18" y2="238.30" stroke="#e6e6e6" stroke-width="0.7"/>
<line x1="378.16" y1="139.60" x2="378.16" y2="238.30" stroke="#e6e6e6" stroke-width="0.7"/>
<line x1="394.14" y1="139.60" x2="394.14" y2="238.30" stroke="#e6e6e6" stroke-width="0.7"/>
<line x1="410.12" y1="139.60" x2="410.12" y2="238.30" stroke="#e6e6e6" stroke-width="0.7"/>
<line x1="426.10" y1="139.60" x2="426.10" y2="238.30" stroke="#e6e6e6" stroke-width="0.7"/>
<line x1="442.08" y1="139.60" x2="442.08" y2="238.30" stroke="#e6e6e6" stroke-width="0.7"/>
<rect x="346.20" y="140.55" width="96.36" height="5.69" fill="#c3be94" stroke="none" stroke-width="0"/>
<text x="343.60" y="145.40" font-size="5.8" text-anchor="end" font-weight="normal" fill="#2b2b2b">13</text>
<rect x="346.20" y="148.14" width="66.48" height="5.69" fill="#c3be94" stroke="none" stroke-width="0"/>
<text x="343.60" y="152.99" font-size="5.8" text-anchor="end" font-weight="normal" fill="#2b2b2b">5</text>
<rect x="346.20" y="155.73" width="64.56" height="5.69" fill="#c3be94" stroke="none" stroke-width="0"/>
<text x="343.60" y="160.58" font-size="5.8" text-anchor="end" font-weight="normal" fill="#2b2b2b">20</text>
<rect x="346.20" y="163.33" width="60.88" height="5.69" fill="#c3be94" stroke="none" stroke-width="0"/>
<text x="343.60" y="168.17" font-size="5.8" text-anchor="end" font-weight="normal" fill="#2b2b2b">2</text>
<rect x="346.20" y="170.92" width="25.36" height="5.69" fill="#c3be94" stroke="none" stroke-width="0"/>
<text x="343.60" y="175.77" font-size="5.8" text-anchor="end" font-weight="normal" fill="#2b2b2b">12</text>
<rect x="346.20" y="178.51" width="24.40" height="5.69" fill="#c3be94" stroke="none" stroke-width="0"/>
<text x="343.60" y="183.36" font-size="5.8" text-anchor="end" font-weight="normal" fill="#2b2b2b">1</text>
<rect x="346.20" y="186.10" width="22.68" height="5.69" fill="#c3be94" stroke="none" stroke-width="0"/>
<text x="343.60" y="190.95" font-size="5.8" text-anchor="end" font-weight="normal" fill="#2b2b2b">18</text>
<rect x="346.20" y="193.70" width="16.01" height="5.69" fill="#c3be94" stroke="none" stroke-width="0"/>
<text x="343.60" y="198.54" font-size="5.8" text-anchor="end" font-weight="normal" fill="#2b2b2b">11</text>
<rect x="346.20" y="201.29" width="11.89" height="5.69" fill="#c3be94" stroke="none" stroke-width="0"/>
<text x="343.60" y="206.13" font-size="5.8" text-anchor="end" font-weight="normal" fill="#2b2b2b">7</text>
<rect x="346.20" y="208.88" width="9.51" height="5.69" fill="#c3be94" stroke="none" stroke-width="0"/>
<text x="343.60" y="213.73" font-size="5.8" text-anchor="end" font-weight="normal" fill="#2b2b2b">6</text>
<rect x="346.20" y="216.47" width="8.55" height="5.69" fill="#c3be94" stroke="none" stroke-width="0"/>
<text x="343.60" y="221.32" font-size="5.8" text-anchor="end" font-weight="normal" fill="#2b2b2b">8</text>
<rect x="346.20" y="224.06" width="7.62" height="5.69" fill="#c3be94" stroke="none" stroke-width="0"/>
<text x="343.60" y="228.91" font-size="5.8" text-anchor="end" font-weight="normal" fill="#2b2b2b">16</text>
<rect x="346.20" y="231.66" width="3.64" height="5.69" fill="#c3be94" stroke="none" stroke-width="0"/>
<text x="343.60" y="236.50" font-size="5.8" text-anchor="end" font-weight="normal" fill="#2b2b2b">17</text>
<rect x="346.20" y="139.60" width="101.40" height="98.70" fill="none" stroke="#d9d9d9" stroke-width="0.7"/>
<text x="346.20" y="245.20" font-size="5.8" text-anchor="middle" font-weight="normal" fill="#2b2b2b">0</text>
<text x="362.18" y="245.20" font-size="5.8" text-anchor="middle" font-weight="normal" fill="#2b2b2b">1</text>
<text x="378.16" y="245.20" font-size="5.8" text-anchor="middle" font-weight="normal" fill="#2b2b2b">2</text>
<text x="394.14" y="245.20" font-size="5.8" text-anchor="middle" font-weight="normal" fill="#2b2b2b">3</text>
<text x="410.12" y="245.20" font-size="5.8" text-anchor="middle" font-weight="normal" fill="#2b2b2b">4</text>
<text x="426.10" y="245.20" font-size="5.8" text-anchor="middle" font-weight="normal" fill="#2b2b2b">5</text>
<text x="442.08" y="245.20" font-size="5.8" text-anchor="middle" font-weight="normal" fill="#2b2b2b">6</text>
<text x="396.90" y="138.10" font-size="5.9" text-anchor="middle" font-weight="bold" fill="#111">PD-nFOG Incongruent</text>
<line x1="245.31" y1="256.30" x2="245.31" y2="354.30" stroke="#e6e6e6" stroke-width="0.7"/>
<line x1="259.72" y1="256.30" x2="259.72" y2="354.30" stroke="#e6e6e6" stroke-width="0.7"/>
<line x1="274.13" y1="256.30" x2="274.13" y2="354.30" stroke="#e6e6e6" stroke-width="0.7"/>
<line x1="288.54" y1="256.30" x2="288.54" y2="354.30" stroke="#e6e6e6" stroke-width="0.7"/>
<line x1="302.95" y1="256.30" x2="302.95" y2="354.30" stroke="#e6e6e6" stroke-width="0.7"/>
<line x1="317.36" y1="256.30" x2="317.36" y2="354.30" stroke="#e6e6e6" stroke-width="0.7"/>
<line x1="331.77" y1="256.30" x2="331.77" y2="354.30" stroke="#e6e6e6" stroke-width="0.7"/>
<rect x="230.90" y="257.24" width="96.45" height="5.65" fill="#b5c8c3" stroke="none" stroke-width="0"/>
<text x="228.30" y="262.07" font-size="5.8" text-anchor="end" font-weight="normal" fill="#2b2b2b">13</text>
<rect x="230.90" y="264.78" width="72.06" height="5.65" fill="#b5c8c3" stroke="none" stroke-width="0"/>
<text x="228.30" y="269.61" font-size="5.8" text-anchor="end" font-weight="normal" fill="#2b2b2b">20</text>
<rect x="230.90" y="272.32" width="71.07" height="5.65" fill="#b5c8c3" stroke="none" stroke-width="0"/>
<text x="228.30" y="277.15" font-size="5.8" text-anchor="end" font-weight="normal" fill="#2b2b2b">5</text>
<rect x="230.90" y="279.86" width="60.35" height="5.65" fill="#b5c8c3" stroke="none" stroke-width="0"/>
<text x="228.30" y="284.68" font-size="5.8" text-anchor="end" font-weight="normal" fill="#2b2b2b">2</text>
<rect x="230.90" y="287.40" width="30.88" height="5.65" fill="#b5c8c3" stroke="none" stroke-width="0"/>
<text x="228.30" y="292.22" font-size="5.8" text-anchor="end" font-weight="normal" fill="#2b2b2b">1</text>
<rect x="230.90" y="294.93" width="30.88" height="5.65" fill="#b5c8c3" stroke="none" stroke-width="0"/>
<text x="228.30" y="299.76" font-size="5.8" text-anchor="end" font-weight="normal" fill="#2b2b2b">12</text>
<rect x="230.90" y="302.47" width="22.13" height="5.65" fill="#b5c8c3" stroke="none" stroke-width="0"/>
<text x="228.30" y="307.30" font-size="5.8" text-anchor="end" font-weight="normal" fill="#2b2b2b">4</text>
<rect x="230.90" y="310.01" width="21.44" height="5.65" fill="#b5c8c3" stroke="none" stroke-width="0"/>
<text x="228.30" y="314.84" font-size="5.8" text-anchor="end" font-weight="normal" fill="#2b2b2b">6</text>
<rect x="230.90" y="317.55" width="21.44" height="5.65" fill="#b5c8c3" stroke="none" stroke-width="0"/>
<text x="228.30" y="322.38" font-size="5.8" text-anchor="end" font-weight="normal" fill="#2b2b2b">8</text>
<rect x="230.90" y="325.09" width="18.75" height="5.65" fill="#b5c8c3" stroke="none" stroke-width="0"/>
<text x="228.30" y="329.92" font-size="5.8" text-anchor="end" font-weight="normal" fill="#2b2b2b">18</text>
<rect x="230.90" y="332.63" width="12.97" height="5.65" fill="#b5c8c3" stroke="none" stroke-width="0"/>
<text x="228.30" y="337.45" font-size="5.8" text-anchor="end" font-weight="normal" fill="#2b2b2b">11</text>
<rect x="230.90" y="340.17" width="9.58" height="5.65" fill="#b5c8c3" stroke="none" stroke-width="0"/>
<text x="228.30" y="344.99" font-size="5.8" text-anchor="end" font-weight="normal" fill="#2b2b2b">16</text>
<rect x="230.90" y="347.70" width="7.19" height="5.65" fill="#b5c8c3" stroke="none" stroke-width="0"/>
<text x="228.30" y="352.53" font-size="5.8" text-anchor="end" font-weight="normal" fill="#2b2b2b">14</text>
<rect x="230.90" y="256.30" width="101.30" height="98.00" fill="none" stroke="#d9d9d9" stroke-width="0.7"/>
<text x="230.90" y="361.20" font-size="5.8" text-anchor="middle" font-weight="normal" fill="#2b2b2b">0</text>
<text x="245.31" y="361.20" font-size="5.8" text-anchor="middle" font-weight="normal" fill="#2b2b2b">1</text>
<text x="259.72" y="361.20" font-size="5.8" text-anchor="middle" font-weight="normal" fill="#2b2b2b">2</text>
<text x="274.13" y="361.20" font-size="5.8" text-anchor="middle" font-weight="normal" fill="#2b2b2b">3</text>
<text x="288.54" y="361.20" font-size="5.8" text-anchor="middle" font-weight="normal" fill="#2b2b2b">4</text>
<text x="302.95" y="361.20" font-size="5.8" text-anchor="middle" font-weight="normal" fill="#2b2b2b">5</text>
<text x="317.36" y="361.20" font-size="5.8" text-anchor="middle" font-weight="normal" fill="#2b2b2b">6</text>
<text x="331.77" y="361.20" font-size="5.8" text-anchor="middle" font-weight="normal" fill="#2b2b2b">7</text>
<text x="281.55" y="254.80" font-size="5.9" text-anchor="middle" font-weight="bold" fill="#111">HC Congruent</text>
<text x="281.55" y="367.90" font-size="5.9" text-anchor="middle" font-weight="normal" fill="#2b2b2b">Beta Weights</text>
<line x1="360.06" y1="256.30" x2="360.06" y2="354.30" stroke="#e6e6e6" stroke-width="0.7"/>
<line x1="373.92" y1="256.30" x2="373.92" y2="354.30" stroke="#e6e6e6" stroke-width="0.7"/>
<line x1="387.78" y1="256.30" x2="387.78" y2="354.30" stroke="#e6e6e6" stroke-width="0.7"/>
<line x1="401.64" y1="256.30" x2="401.64" y2="354.30" stroke="#e6e6e6" stroke-width="0.7"/>
<line x1="415.50" y1="256.30" x2="415.50" y2="354.30" stroke="#e6e6e6" stroke-width="0.7"/>
<line x1="429.36" y1="256.30" x2="429.36" y2="354.30" stroke="#e6e6e6" stroke-width="0.7"/>
<line x1="443.22" y1="256.30" x2="443.22" y2="354.30" stroke="#e6e6e6" stroke-width="0.7"/>
<rect x="346.20" y="257.24" width="96.17" height="5.65" fill="#6f9186" stroke="none" stroke-width="0"/>
<text x="343.60" y="262.07" font-size="5.8" text-anchor="end" font-weight="normal" fill="#2b2b2b">13</text>
<rect x="346.20" y="264.78" width="70.91" height="5.65" fill="#6f9186" stroke="none" stroke-width="0"/>
<text x="343.60" y="269.61" font-size="5.8" text-anchor="end" font-weight="normal" fill="#2b2b2b">5</text>
<rect x="346.20" y="272.32" width="68.57" height="5.65" fill="#6f9186" stroke="none" stroke-width="0"/>
<text x="343.60" y="277.15" font-size="5.8" text-anchor="end" font-weight="normal" fill="#2b2b2b">20</text>
<rect x="346.20" y="279.86" width="65.81" height="5.65" fill="#6f9186" stroke="none" stroke-width="0"/>
<text x="343.60" y="284.68" font-size="5.8" text-anchor="end" font-weight="normal" fill="#2b2b2b">2</text>
<rect x="346.20" y="287.40" width="30.64" height="5.65" fill="#6f9186" stroke="none" stroke-width="0"/>
<text x="343.60" y="292.22" font-size="5.8" text-anchor="end" font-weight="normal" fill="#2b2b2b">12</text>
<rect x="346.20" y="294.93" width="29.95" height="5.65" fill="#6f9186" stroke="none" stroke-width="0"/>
<text x="343.60" y="299.76" font-size="5.8" text-anchor="end" font-weight="normal" fill="#2b2b2b">1</text>
<rect x="346.20" y="302.47" width="23.78" height="5.65" fill="#6f9186" stroke="none" stroke-width="0"/>
<text x="343.60" y="307.30" font-size="5.8" text-anchor="end" font-weight="normal" fill="#2b2b2b">6</text>
<rect x="346.20" y="310.01" width="22.54" height="5.65" fill="#6f9186" stroke="none" stroke-width="0"/>
<text x="343.60" y="314.84" font-size="5.8" text-anchor="end" font-weight="normal" fill="#2b2b2b">8</text>
<rect x="346.20" y="317.55" width="20.47" height="5.65" fill="#6f9186" stroke="none" stroke-width="0"/>
<text x="343.60" y="322.38" font-size="5.8" text-anchor="end" font-weight="normal" fill="#2b2b2b">18</text>
<rect x="346.20" y="325.09" width="18.82" height="5.65" fill="#6f9186" stroke="none" stroke-width="0"/>
<text x="343.60" y="329.92" font-size="5.8" text-anchor="end" font-weight="normal" fill="#2b2b2b">4</text>
<rect x="346.20" y="332.63" width="10.99" height="5.65" fill="#6f9186" stroke="none" stroke-width="0"/>
<text x="343.60" y="337.45" font-size="5.8" text-anchor="end" font-weight="normal" fill="#2b2b2b">11</text>
<rect x="346.20" y="340.17" width="10.31" height="5.65" fill="#6f9186" stroke="none" stroke-width="0"/>
<text x="343.60" y="344.99" font-size="5.8" text-anchor="end" font-weight="normal" fill="#2b2b2b">16</text>
<rect x="346.20" y="347.70" width="6.60" height="5.65" fill="#6f9186" stroke="none" stroke-width="0"/>
<text x="343.60" y="352.53" font-size="5.8" text-anchor="end" font-weight="normal" fill="#2b2b2b">14</text>
<rect x="346.20" y="256.30" width="101.40" height="98.00" fill="none" stroke="#d9d9d9" stroke-width="0.7"/>
<text x="346.20" y="361.20" font-size="5.8" text-anchor="middle" font-weight="normal" fill="#2b2b2b">0</text>
<text x="360.06" y="361.20" font-size="5.8" text-anchor="middle" font-weight="normal" fill="#2b2b2b">1</text>
<text x="373.92" y="361.20" font-size="5.8" text-anchor="middle" font-weight="normal" fill="#2b2b2b">2</text>
<text x="387.78" y="361.20" font-size="5.8" text-anchor="middle" font-weight="normal" fill="#2b2b2b">3</text>
<text x="401.64" y="361.20" font-size="5.8" text-anchor="middle" font-weight="normal" fill="#2b2b2b">4</text>
<text x="415.50" y="361.20" font-size="5.8" text-anchor="middle" font-weight="normal" fill="#2b2b2b">5</text>
<text x="429.36" y="361.20" font-size="5.8" text-anchor="middle" font-weight="normal" fill="#2b2b2b">6</text>
<text x="443.22" y="361.20" font-size="5.8" text-anchor="middle" font-weight="normal" fill="#2b2b2b">7</text>
<text x="396.90" y="254.80" font-size="5.9" text-anchor="middle" font-weight="bold" fill="#111">HC Incongruent</text>
<text x="396.90" y="367.90" font-size="5.9" text-anchor="middle" font-weight="normal" fill="#2b2b2b">Beta Weights</text>
<text x="220.50" y="72.85" font-size="6.0" text-anchor="middle" font-weight="bold" fill="#111" transform="rotate(-90 220.50 72.85)">Component Number</text>
<text x="220.50" y="188.95" font-size="6.0" text-anchor="middle" font-weight="bold" fill="#111" transform="rotate(-90 220.50 188.95)">Component Number</text>
<text x="220.50" y="305.30" font-size="6.0" text-anchor="middle" font-weight="bold" fill="#111" transform="rotate(-90 220.50 305.30)">Component Number</text>
<rect x="461.4" y="22.8" width="222.0" height="330.8" fill="#000" stroke="#2a3a5a" stroke-width="0.8"/>
<defs>
<filter id="gy" x="0" y="0" width="100%" height="100%" color-interpolation-filters="sRGB"><feTurbulence type="turbulence" baseFrequency="0.13" numOctaves="2" seed="3"/><feColorMatrix type="matrix" values="1 0 0 0 0  1 0 0 0 0  1 0 0 0 0  0 0 0 0 1"/><feComponentTransfer><feFuncR type="table" tableValues="0.1 0.55 0.82 0.93 0.96 0.97"/><feFuncG type="table" tableValues="0.1 0.55 0.82 0.93 0.96 0.97"/><feFuncB type="table" tableValues="0.1 0.55 0.82 0.93 0.96 0.97"/></feComponentTransfer><feGaussianBlur stdDeviation="0.4"/></filter>
<filter id="irr" x="-40%" y="-40%" width="180%" height="180%"><feTurbulence type="fractalNoise" baseFrequency="0.18" numOctaves="2" seed="5" result="t"/><feDisplacementMap in="SourceGraphic" in2="t" scale="4.5" xChannelSelector="R" yChannelSelector="G"/><feGaussianBlur stdDeviation="0.55"/></filter>
<filter id="irr2" x="-40%" y="-40%" width="180%" height="180%"><feTurbulence type="fractalNoise" baseFrequency="0.25" numOctaves="2" seed="9" result="t"/><feDisplacementMap in="SourceGraphic" in2="t" scale="3" xChannelSelector="R" yChannelSelector="G"/><feGaussianBlur stdDeviation="0.45"/></filter>
<filter id="wmb" x="-10%" y="-10%" width="120%" height="120%"><feTurbulence type="fractalNoise" baseFrequency="0.3" numOctaves="2" seed="21" result="t"/><feDisplacementMap in="SourceGraphic" in2="t" scale="3.2" xChannelSelector="R" yChannelSelector="G" result="d"/><feGaussianBlur in="d" stdDeviation="0.35"/></filter>
<filter id="bump" x="-10%" y="-10%" width="120%" height="120%"><feTurbulence type="fractalNoise" baseFrequency="0.35" numOctaves="1" seed="11" result="t"/><feDisplacementMap in="SourceGraphic" in2="t" scale="2.6" xChannelSelector="R" yChannelSelector="G"/></filter>
<radialGradient id="act" cx="0.5" cy="0.5" r="0.5"><stop offset="0" stop-color="#fff064"/><stop offset="0.3" stop-color="#ffd434"/><stop offset="0.56" stop-color="#ff9a18"/><stop offset="0.8" stop-color="#ff4a00"/><stop offset="1" stop-color="#d81400"/></radialGradient>
<radialGradient id="actr" cx="0.5" cy="0.5" r="0.5"><stop offset="0" stop-color="#ff9000"/><stop offset="0.55" stop-color="#ff4500"/><stop offset="1" stop-color="#e01500"/></radialGradient>
<linearGradient id="actv" x1="0" y1="0" x2="0" y2="1"><stop offset="0" stop-color="#ffd23a"/><stop offset="0.45" stop-color="#ffc430"/><stop offset="0.7" stop-color="#ff9014"/><stop offset="0.88" stop-color="#ff4800"/><stop offset="1" stop-color="#e02000"/></linearGradient>
<radialGradient id="acty" cx="0.5" cy="0.5" r="0.5"><stop offset="0" stop-color="#ffff70" stop-opacity="0.95"/><stop offset="0.55" stop-color="#ffe850" stop-opacity="0.6"/><stop offset="1" stop-color="#ffd040" stop-opacity="0"/></radialGradient>
<radialGradient id="wm" cx="0.5" cy="0.5" r="0.5"><stop offset="0" stop-color="#fff" stop-opacity="0.35"/><stop offset="0.55" stop-color="#fff" stop-opacity="0.2"/><stop offset="1" stop-color="#fff" stop-opacity="0"/></radialGradient>
</defs>
<mask id="c1" maskUnits="userSpaceOnUse" x="489.6" y="42.0" width="56.0" height="61.0"><path d="M 517.60 46.00 C 531.04 46.00 539.20 56.60 541.12 71.44 C 542.56 85.75 536.80 97.94 517.60 99.00 C 498.40 97.94 492.64 85.75 494.08 71.44 C 496.00 56.60 504.16 46.00 517.60 46.00 Z" fill="#fff" filter="url(#bump)"/></mask>
<g mask="url(#c1)">
<rect x="492.60" y="45.00" width="50.00" height="55.00" fill="#7e7e7e"/>
<g filter="url(#wmb)">
<ellipse cx="508.00" cy="73.56" rx="5.04" ry="14.58" fill="#ececec"/>
<path d="M 507.13 81.35 Q 505.85 87.20 505.66 94.39 M 505.70 80.29 Q 502.46 86.72 501.19 93.52 M 503.64 86.34 L 505.60 95.63 M 504.66 78.59 Q 501.95 83.19 498.28 88.18 M 502.65 81.61 L 496.27 77.97 M 503.85 75.80 Q 499.53 77.09 495.98 80.04 M 503.68 73.83 Q 499.05 74.90 496.35 74.29 M 500.66 74.02 L 498.29 83.36 M 504.11 70.12 Q 500.74 67.82 497.13 63.94 M 500.87 67.25 L 500.71 57.22 M 504.44 69.05 Q 500.84 64.11 498.24 61.19 M 501.97 65.92 L 496.97 69.25 M 506.11 66.41 Q 504.13 60.67 502.85 54.12 M 507.41 65.68 Q 507.24 59.11 506.42 52.37 M 506.90 58.76 L 510.81 53.90" fill="none" stroke="#ececec" stroke-width="1.9" stroke-linecap="round"/>
<path d="M 504.30 91.17 L 502.29 100.75 M 500.85 88.44 L 497.51 95.40 M 499.47 81.84 L 493.99 87.15 M 498.47 77.85 L 492.61 80.49 M 498.49 71.06 L 492.32 69.43 M 498.95 62.52 L 494.80 57.45 M 501.08 59.16 L 497.51 51.72 M 504.11 54.76 L 502.37 46.32 M 507.94 55.69 L 507.91 44.41" fill="none" stroke="#1a1a1a" stroke-width="0.9" opacity="0.9"/>
<ellipse cx="527.20" cy="73.56" rx="5.04" ry="14.58" fill="#ececec"/>
<path d="M 527.72 65.67 Q 527.64 58.56 528.69 51.04 M 529.28 66.59 Q 532.28 60.56 532.90 54.47 M 530.47 62.62 L 527.29 52.84 M 530.30 68.03 Q 533.47 62.52 536.18 57.56 M 533.45 62.43 L 538.42 66.15 M 531.36 71.41 Q 535.36 70.06 538.31 67.83 M 533.88 70.11 L 537.94 77.60 M 531.52 73.22 Q 534.03 73.45 538.94 72.63 M 531.09 77.00 Q 534.85 79.36 538.57 83.62 M 534.76 80.24 L 539.18 75.81 M 530.49 78.72 Q 533.72 82.49 536.82 88.66 M 533.01 82.69 L 538.45 81.56 M 528.97 80.81 Q 530.06 87.21 532.39 94.85 M 530.44 86.82 L 535.49 89.80 M 528.33 81.23 Q 530.05 87.71 530.50 95.97 M 529.45 88.82 L 534.34 91.40" fill="none" stroke="#ececec" stroke-width="1.9" stroke-linecap="round"/>
<path d="M 530.39 56.87 L 532.46 46.06 M 534.05 58.71 L 537.45 51.33 M 535.47 63.90 L 540.58 57.94 M 537.57 71.54 L 542.95 70.49 M 537.25 76.66 L 542.82 78.37 M 535.79 81.60 L 541.32 86.78 M 534.01 87.83 L 537.65 95.46 M 530.83 89.97 L 533.17 100.56 M 527.82 92.66 L 528.15 102.66" fill="none" stroke="#1a1a1a" stroke-width="0.9" opacity="0.9"/>
</g>
<rect x="493.60" y="46.00" width="49.00" height="54.00" fill="#fff" filter="url(#gy)" opacity="0.18"/>
<path d="M 517.60 46.00 C 531.04 46.00 539.20 56.60 541.12 71.44 C 542.56 85.75 536.80 97.94 517.60 99.00 C 498.40 97.94 492.64 85.75 494.08 71.44 C 496.00 56.60 504.16 46.00 517.60 46.00 Z" fill="none" stroke="#5a5a5a" stroke-width="2.4" opacity="0.5"/>
<ellipse cx="517.60" cy="75.15" rx="18.24" ry="21.20" fill="url(#wm)"/>
<line x1="517.60" y1="46.00" x2="517.60" y2="99.00" stroke="#111" stroke-width="1.2"/>
<path d="M 492 44 L 544 44 L 544 79 L 537 77 L 530 71 L 523 66 L 517.5 63 L 512 66 L 505 71 L 498 77 L 492 79 Z" fill="url(#actv)" filter="url(#irr)" opacity="1"/>
<ellipse cx="505.00" cy="60.00" rx="9.00" ry="9.00" fill="url(#acty)" filter="url(#irr)" opacity="1"/>
<ellipse cx="525.00" cy="56.00" rx="8.00" ry="7.00" fill="url(#acty)" filter="url(#irr)" opacity="1"/>
<ellipse cx="517.50" cy="55.00" rx="4.00" ry="8.00" fill="url(#acty)" filter="url(#irr)" opacity="1"/>
<ellipse cx="534.00" cy="66.00" rx="5.00" ry="5.00" fill="url(#acty)" filter="url(#irr)" opacity="1"/>
<ellipse cx="497.00" cy="83.00" rx="2.00" ry="2.00" fill="url(#actr)" filter="url(#irr2)" opacity="1"/>
<ellipse cx="511.00" cy="92.50" rx="3.00" ry="1.60" fill="url(#actr)" filter="url(#irr2)" opacity="1"/>
<ellipse cx="539.00" cy="81.00" rx="1.80" ry="2.50" fill="url(#actr)" filter="url(#irr2)" opacity="1"/>
<path d="M 512 50 L 513 64 M 523 50 L 521 63 M 500 68 L 508 66 M 530 67 L 538 70" fill="none" stroke="#ff3a00" stroke-width="1.3" filter="url(#irr2)" opacity="0.85"/>
</g>
<mask id="c2" maskUnits="userSpaceOnUse" x="549.0" y="54.8" width="46.8" height="41.2"><path d="M 572.40 58.80 C 583.26 58.80 590.64 62.78 591.41 72.08 C 591.80 78.72 591.41 87.02 588.70 90.34 C 585.98 92.00 580.94 92.00 577.83 90.01 L 566.97 90.01 C 563.86 92.00 558.82 92.00 556.10 90.34 C 553.39 87.02 553.00 78.72 553.39 72.08 C 554.16 62.78 561.54 58.80 572.40 58.80 Z" fill="#fff" filter="url(#bump)"/></mask>
<g mask="url(#c2)">
<rect x="552.00" y="57.80" width="40.80" height="35.20" fill="#7e7e7e"/>
<g filter="url(#wmb)">
<ellipse cx="564.64" cy="72.74" rx="4.66" ry="5.23" fill="#ececec"/>
<path d="M 563.07 76.75 Q 562.38 79.66 559.97 84.63 M 561.98 79.51 L 557.36 81.36 M 561.77 75.30 Q 559.04 78.36 556.45 80.05 M 561.44 74.55 Q 558.56 75.89 556.01 77.61 M 558.62 76.14 L 558.86 81.53 M 561.16 73.12 Q 557.64 74.33 554.89 73.80 M 559.07 73.35 L 556.51 78.59 M 561.29 71.49 Q 559.13 69.34 555.18 69.22 M 562.14 69.62 Q 560.38 67.05 557.89 64.30 M 560.07 67.02 L 555.99 69.74 M 562.69 69.03 Q 560.21 65.39 559.12 62.23 M 561.28 66.35 L 562.05 61.13 M 564.34 68.28 Q 563.54 64.44 563.77 59.67 M 565.45 68.38 Q 566.18 63.53 566.98 60.16 M 566.12 64.80 L 562.71 60.65" fill="none" stroke="#ececec" stroke-width="1.9" stroke-linecap="round"/>
<path d="M 559.60 79.93 L 556.08 84.96 M 557.48 77.91 L 553.48 80.79 M 557.01 73.98 L 551.94 74.80 M 557.28 70.44 L 552.20 68.86 M 557.23 67.80 L 553.28 65.16 M 559.77 64.91 L 556.65 59.90 M 561.20 62.35 L 559.63 57.62 M 564.34 62.03 L 564.19 56.32 M 567.53 63.05 L 569.22 57.40" fill="none" stroke="#1a1a1a" stroke-width="0.9" opacity="0.9"/>
<ellipse cx="580.16" cy="72.74" rx="4.66" ry="5.23" fill="#ececec"/>
<path d="M 579.61 68.32 Q 580.15 63.53 578.61 60.17 M 580.58 68.29 Q 581.36 63.81 581.33 60.29 M 580.91 64.73 L 578.34 61.03 M 581.95 68.89 Q 583.55 65.63 584.98 62.34 M 583.45 65.65 L 587.87 66.88 M 582.77 69.77 Q 585.82 67.70 587.26 64.66 M 584.66 67.62 L 583.60 62.03 M 583.54 71.60 Q 587.31 70.06 589.28 69.65 M 583.65 72.97 Q 586.12 72.47 589.64 73.36 M 585.73 73.11 L 588.21 78.00 M 583.33 74.63 Q 586.32 77.01 588.66 77.81 M 585.65 76.01 L 585.62 81.77 M 582.94 75.45 Q 585.73 77.87 588.27 80.63 M 585.46 77.90 L 589.78 74.44 M 582.12 76.45 Q 583.46 79.69 585.42 82.67 M 583.76 79.54 L 587.52 79.14" fill="none" stroke="#ececec" stroke-width="1.9" stroke-linecap="round"/>
<path d="M 580.52 61.52 L 580.69 56.32 M 583.22 63.58 L 585.20 57.64 M 584.84 65.05 L 588.04 59.79 M 587.94 67.49 L 591.49 65.09 M 588.40 70.74 L 592.74 69.68 M 588.95 74.18 L 592.86 74.81 M 587.65 78.97 L 590.91 81.67 M 585.51 81.69 L 587.96 85.78 M 583.62 82.80 L 585.33 87.78" fill="none" stroke="#1a1a1a" stroke-width="0.9" opacity="0.9"/>
<rect x="564.64" y="70.75" width="15.52" height="2.66" fill="#ececec"/>
<ellipse cx="560.76" cy="85.36" rx="3.49" ry="1.86" fill="#ececec"/>
<path d="M 562.50 86.14 Q 564.94 87.78 565.93 87.68 M 560.21 86.71 Q 558.74 88.90 559.15 89.30 M 558.67 85.44 Q 556.55 85.05 554.61 85.60 M 560.00 84.06 Q 558.63 82.56 558.73 81.88 M 562.57 84.65 Q 564.50 83.79 565.75 83.41" fill="none" stroke="#ececec" stroke-width="1.4" stroke-linecap="round"/>
<ellipse cx="584.04" cy="85.36" rx="3.49" ry="1.86" fill="#ececec"/>
<path d="M 585.73 86.19 Q 586.47 88.14 589.06 87.83 M 587.25 86.94 L 587.47 88.61 M 583.46 86.70 Q 582.74 89.15 582.33 89.28 M 582.92 87.93 L 584.54 89.24 M 581.96 85.51 Q 579.99 86.18 577.84 85.79 M 583.46 84.02 Q 581.92 83.21 582.43 81.62 M 583.13 83.23 L 585.01 81.71 M 585.83 84.64 Q 587.88 83.56 589.12 83.31 M 587.34 84.03 L 587.56 82.41" fill="none" stroke="#ececec" stroke-width="1.4" stroke-linecap="round"/>
</g>
<rect x="553.00" y="58.80" width="39.80" height="34.20" fill="#fff" filter="url(#gy)" opacity="0.18"/>
<path d="M 572.40 58.80 C 583.26 58.80 590.64 62.78 591.41 72.08 C 591.80 78.72 591.41 87.02 588.70 90.34 C 585.98 92.00 580.94 92.00 577.83 90.01 L 566.97 90.01 C 563.86 92.00 558.82 92.00 556.10 90.34 C 553.39 87.02 553.00 78.72 553.39 72.08 C 554.16 62.78 561.54 58.80 572.40 58.80 Z" fill="none" stroke="#5a5a5a" stroke-width="2.4" opacity="0.5"/>
<ellipse cx="572.40" cy="75.40" rx="15.52" ry="11.62" fill="url(#wm)"/>
<line x1="572.40" y1="58.80" x2="572.40" y2="68.76" stroke="#111" stroke-width="1.2"/>
<path d="M 570.07 72.74 Q 572.40 75.40 574.73 72.74 L 573.56 76.06 L 571.24 76.06 Z" fill="#333"/>
<path d="M 553.00 82.04 Q 558.82 80.71 564.64 82.70" fill="none" stroke="#222" stroke-width="1.1" opacity="0.8"/>
<path d="M 591.80 82.04 Q 585.98 80.71 580.16 82.70" fill="none" stroke="#222" stroke-width="1.1" opacity="0.8"/>
<path d="M 551 57 L 594 57 L 594 76 L 586 79 L 579 76 L 573 74 L 566 79 L 561 86 L 556 89 L 551 85 Z" fill="url(#actv)" filter="url(#irr)" opacity="1"/>
<ellipse cx="565.00" cy="67.00" rx="9.00" ry="8.00" fill="url(#acty)" filter="url(#irr)" opacity="1"/>
<ellipse cx="581.00" cy="68.00" rx="8.00" ry="7.00" fill="url(#acty)" filter="url(#irr)" opacity="1"/>
<ellipse cx="573.00" cy="63.00" rx="4.00" ry="5.00" fill="url(#acty)" filter="url(#irr)" opacity="1"/>
<path d="M 571 62 L 572 74 M 563 70 L 558 80 M 582 72 L 585 78" fill="none" stroke="#ff3a00" stroke-width="1.3" filter="url(#irr2)" opacity="0.85"/>
</g>
<rect x="618.50" y="80.00" width="8.00" height="23.50" rx="3.20" fill="#b4b4b4"/>
<ellipse cx="619.00" cy="88.50" rx="11.00" ry="8.00" fill="#8e8e8e"/>
<line x1="613.10" y1="82.00" x2="624.90" y2="82.40" stroke="#dadada" stroke-width="0.6"/>
<line x1="611.10" y1="83.50" x2="626.90" y2="83.90" stroke="#dadada" stroke-width="0.6"/>
<line x1="609.90" y1="85.00" x2="628.10" y2="85.40" stroke="#dadada" stroke-width="0.6"/>
<line x1="609.20" y1="86.50" x2="628.80" y2="86.90" stroke="#dadada" stroke-width="0.6"/>
<line x1="608.90" y1="88.00" x2="629.10" y2="88.40" stroke="#dadada" stroke-width="0.6"/>
<line x1="608.96" y1="89.50" x2="629.04" y2="89.90" stroke="#dadada" stroke-width="0.6"/>
<line x1="609.39" y1="91.00" x2="628.61" y2="91.40" stroke="#dadada" stroke-width="0.6"/>
<line x1="610.24" y1="92.50" x2="627.76" y2="92.90" stroke="#dadada" stroke-width="0.6"/>
<line x1="611.65" y1="94.00" x2="626.35" y2="94.40" stroke="#dadada" stroke-width="0.6"/>
<mask id="c3" maskUnits="userSpaceOnUse" x="599.1" y="47.9" width="66.8" height="48.0"><path d="M 603.10 75.90 C 603.10 63.90 614.86 51.90 629.56 51.90 C 647.20 51.90 661.90 59.90 661.90 71.90 C 661.90 79.10 659.55 83.90 656.02 86.30 C 651.32 88.70 645.44 87.90 641.91 85.50 C 637.20 83.10 632.50 83.90 627.80 83.10 C 620.74 82.30 614.86 83.90 608.98 83.90 C 604.86 83.10 603.10 79.90 603.10 75.90 Z" fill="#fff" filter="url(#bump)"/></mask>
<g mask="url(#c3)">
<rect x="602.10" y="50.90" width="60.80" height="42.00" fill="#7e7e7e"/>
<g filter="url(#wmb)">
<ellipse cx="632.50" cy="73.90" rx="17.64" ry="4.40" fill="#ececec"/>
<path d="M 622.26 73.17 Q 613.79 72.78 606.90 72.06 M 617.61 72.83 L 608.93 79.02 M 623.11 70.74 Q 615.84 68.30 609.42 66.14 M 616.48 68.51 L 617.55 59.73 M 624.33 69.22 Q 617.79 66.16 612.29 62.32 M 619.11 66.22 L 608.56 70.86 M 625.96 67.96 Q 620.82 62.80 617.13 59.93 M 622.28 64.61 L 626.88 57.21 M 627.63 67.12 Q 624.07 62.42 620.14 56.68 M 624.49 62.73 L 629.33 55.38 M 629.02 66.65 Q 627.05 60.27 623.79 55.78 M 626.80 62.04 L 614.42 61.47 M 632.42 66.20 Q 633.37 59.73 632.31 55.07 M 632.37 60.76 L 642.86 57.71 M 635.16 66.46 Q 638.17 60.94 639.31 54.88 M 637.29 67.09 Q 641.05 62.85 644.59 56.71 M 639.28 68.11 Q 643.29 64.50 648.51 60.24 M 640.99 69.55 Q 646.67 65.36 653.44 63.19 M 646.82 66.57 L 656.13 70.04 M 641.76 70.55 Q 647.64 67.49 654.07 66.09 M 646.12 68.97 L 655.26 73.03 M 642.69 72.84 Q 649.35 73.09 656.40 71.41 M 648.39 72.24 L 651.02 63.75" fill="none" stroke="#ececec" stroke-width="1.8" stroke-linecap="round"/>
<path d="M 614.14 70.76 L 600.97 68.50 M 613.08 66.65 L 603.56 63.10 M 616.44 62.15 L 609.38 56.98 M 619.99 60.66 L 613.83 54.14 M 625.14 59.09 L 621.23 51.22 M 629.37 59.38 L 627.35 50.01 M 634.61 59.83 L 636.11 49.85 M 639.63 58.79 L 643.27 51.08 M 643.33 61.81 L 650.51 53.80 M 646.89 64.27 L 656.61 57.77 M 649.40 67.54 L 661.39 63.02 M 652.79 69.92 L 663.78 67.76 M 653.73 72.85 L 664.77 72.30" fill="none" stroke="#1a1a1a" stroke-width="0.9" opacity="0.9"/>
<ellipse cx="639.56" cy="83.90" rx="7.76" ry="1.96" fill="#ececec"/>
<path d="M 643.37 83.60 Q 645.77 83.03 650.32 83.05 M 646.90 83.32 L 649.77 84.81 M 642.56 84.96 Q 645.35 86.83 648.51 87.08 M 644.95 85.81 L 650.47 84.68 M 639.43 85.58 Q 639.68 87.81 639.20 88.82 M 636.84 85.10 Q 633.74 85.21 632.30 87.11 M 635.29 85.79 L 636.05 87.89 M 635.69 83.77 Q 633.18 84.17 628.46 83.53" fill="none" stroke="#ececec" stroke-width="1.4" stroke-linecap="round"/>
<path d="M 624.27 77.50 Q 635.44 75.90 650.14 79.90" fill="none" stroke="#1e1e1e" stroke-width="1.1"/>
</g>
<rect x="603.10" y="51.90" width="59.80" height="41.00" fill="#fff" filter="url(#gy)" opacity="0.18"/>
<path d="M 603.10 75.90 C 603.10 63.90 614.86 51.90 629.56 51.90 C 647.20 51.90 661.90 59.90 661.90 71.90 C 661.90 79.10 659.55 83.90 656.02 86.30 C 651.32 88.70 645.44 87.90 641.91 85.50 C 637.20 83.10 632.50 83.90 627.80 83.10 C 620.74 82.30 614.86 83.90 608.98 83.90 C 604.86 83.10 603.10 79.90 603.10 75.90 Z" fill="none" stroke="#5a5a5a" stroke-width="2.4" opacity="0.5"/>
<ellipse cx="632.50" cy="73.90" rx="22.34" ry="12.00" fill="url(#wm)"/>
<path d="M 620.74 73.90 Q 632.50 63.10 646.61 71.90" fill="none" stroke="#f4f4f4" stroke-width="2.2"/>
<path d="M 623.09 75.90 Q 632.50 67.10 644.26 74.30" fill="none" stroke="#3a3a3a" stroke-width="1.3"/>
<ellipse cx="651.00" cy="67.00" rx="10.00" ry="13.50" fill="url(#act)" filter="url(#irr)" opacity="1"/>
<ellipse cx="641.00" cy="77.00" rx="6.00" ry="4.00" fill="url(#actr)" filter="url(#irr)" opacity="1"/>
<ellipse cx="625.00" cy="61.00" rx="8.00" ry="3.00" fill="url(#actr)" filter="url(#irr)" opacity="1"/>
<ellipse cx="616.00" cy="59.00" rx="4.00" ry="2.50" fill="url(#actr)" filter="url(#irr2)" opacity="1"/>
<ellipse cx="609.00" cy="79.00" rx="3.50" ry="3.00" fill="url(#actr)" filter="url(#irr)" opacity="1"/>
<ellipse cx="606.00" cy="70.00" rx="2.00" ry="2.00" fill="url(#actr)" filter="url(#irr2)" opacity="1"/>
<ellipse cx="657.00" cy="83.00" rx="3.00" ry="2.00" fill="url(#actr)" filter="url(#irr2)" opacity="1"/>
</g>
<mask id="c4" maskUnits="userSpaceOnUse" x="489.5" y="118.8" width="49.5" height="51.4"><path d="M 514.25 122.80 C 522.55 122.80 530.02 129.31 532.92 140.16 C 535.83 152.31 530.85 164.90 514.25 166.20 C 497.65 164.90 492.67 152.31 495.57 140.16 C 498.48 129.31 505.95 122.80 514.25 122.80 Z" fill="#fff" filter="url(#bump)"/></mask>
<g mask="url(#c4)">
<rect x="492.50" y="121.80" width="43.50" height="45.40" fill="#7e7e7e"/>
<g filter="url(#wmb)">
<ellipse cx="505.95" cy="145.37" rx="4.36" ry="11.94" fill="#ececec"/>
<path d="M 505.56 151.84 Q 505.41 158.60 504.87 163.31 M 505.24 157.16 L 501.22 160.42 M 504.38 151.27 Q 503.19 155.92 501.39 162.47 M 502.92 149.18 Q 499.18 153.89 497.27 156.28 M 502.48 147.79 Q 499.04 149.99 496.21 152.17 M 500.44 149.22 L 496.01 143.54 M 502.23 144.74 Q 499.53 144.65 495.25 143.56 M 498.59 144.13 L 497.15 136.18 M 502.52 142.79 Q 500.18 140.67 496.27 138.10 M 500.50 141.28 L 495.94 146.79 M 503.29 140.80 Q 500.88 137.07 498.64 132.81 M 501.57 137.85 L 496.81 139.37 M 504.07 139.74 Q 501.82 134.19 500.73 129.69 M 502.67 135.53 L 505.00 128.18 M 505.06 139.04 Q 504.07 133.65 503.52 127.99 M 504.43 134.53 L 507.99 128.73" fill="none" stroke="#ececec" stroke-width="1.9" stroke-linecap="round"/>
<path d="M 502.86 158.46 L 500.74 167.45 M 500.38 157.89 L 497.56 164.24 M 498.36 153.49 L 494.28 157.86 M 497.26 148.10 L 492.47 149.60 M 496.90 142.75 L 492.44 141.47 M 497.96 137.76 L 493.93 133.92 M 500.36 134.49 L 496.82 127.58 M 502.71 132.09 L 500.59 123.40 M 505.48 129.99 L 505.22 121.53" fill="none" stroke="#1a1a1a" stroke-width="0.9" opacity="0.9"/>
<ellipse cx="522.55" cy="145.37" rx="4.36" ry="11.94" fill="#ececec"/>
<path d="M 523.40 139.03 Q 523.45 133.51 524.87 128.07 M 524.73 140.08 Q 526.22 134.26 528.75 130.35 M 526.24 136.43 L 524.89 128.22 M 525.51 141.40 Q 526.95 136.95 530.58 134.63 M 527.87 138.25 L 526.89 130.41 M 525.94 142.64 Q 528.26 140.31 531.61 138.08 M 528.70 140.42 L 529.16 133.53 M 526.27 144.84 Q 529.40 144.58 532.56 143.95 M 528.90 144.47 L 531.24 138.49 M 526.11 147.34 Q 528.75 149.95 533.22 151.28 M 529.03 148.96 L 533.10 142.24 M 525.20 149.96 Q 527.74 153.85 529.87 158.08 M 527.39 153.77 L 531.81 151.11 M 524.11 151.29 Q 524.76 156.81 526.81 161.56 M 524.99 154.65 L 529.91 156.43 M 523.27 151.76 Q 523.88 156.69 524.63 163.87 M 523.84 156.80 L 519.82 162.72" fill="none" stroke="#ececec" stroke-width="1.9" stroke-linecap="round"/>
<path d="M 526.02 130.02 L 527.57 123.16 M 528.59 133.79 L 531.77 127.71 M 530.86 137.43 L 534.56 133.90 M 531.25 142.53 L 536.01 140.98 M 531.81 148.56 L 535.99 150.00 M 529.36 152.96 L 534.09 158.23 M 528.29 156.22 L 531.83 162.92 M 525.30 160.10 L 526.78 168.07 M 522.79 159.60 L 522.95 169.23" fill="none" stroke="#1a1a1a" stroke-width="0.9" opacity="0.9"/>
</g>
<rect x="493.50" y="122.80" width="42.50" height="44.40" fill="#fff" filter="url(#gy)" opacity="0.18"/>
<path d="M 514.25 122.80 C 522.55 122.80 530.02 129.31 532.92 140.16 C 535.83 152.31 530.85 164.90 514.25 166.20 C 497.65 164.90 492.67 152.31 495.57 140.16 C 498.48 129.31 505.95 122.80 514.25 122.80 Z" fill="none" stroke="#5a5a5a" stroke-width="2.4" opacity="0.5"/>
<ellipse cx="514.25" cy="146.67" rx="15.77" ry="17.36" fill="url(#wm)"/>
<line x1="514.25" y1="122.80" x2="514.25" y2="166.20" stroke="#111" stroke-width="1.2"/>
<ellipse cx="501.50" cy="148.50" rx="8.00" ry="12.50" fill="url(#act)" filter="url(#irr)" opacity="1"/>
<ellipse cx="513.30" cy="140.50" rx="1.80" ry="4.50" fill="url(#actr)" filter="url(#irr2)" opacity="1"/>
<ellipse cx="511.00" cy="152.00" rx="2.00" ry="2.00" fill="url(#actr)" filter="url(#irr2)" opacity="1"/>
<ellipse cx="531.00" cy="150.00" rx="1.20" ry="1.20" fill="url(#actr)" filter="url(#irr2)" opacity="1"/>
</g>
<rect x="563.00" y="148.00" width="13.50" height="21.70" rx="5.40" fill="#b4b4b4"/>
<mask id="c5" maskUnits="userSpaceOnUse" x="541.4" y="119.4" width="57.4" height="47.3"><path d="M 570.10 123.40 C 583.93 123.40 593.32 128.12 594.31 139.12 C 594.80 146.98 594.31 156.81 590.85 160.74 C 587.39 162.70 580.97 162.70 577.02 160.34 L 563.18 160.34 C 559.23 162.70 552.81 162.70 549.35 160.74 C 545.89 156.81 545.40 146.98 545.89 139.12 C 546.88 128.12 556.27 123.40 570.10 123.40 Z" fill="#fff" filter="url(#bump)"/></mask>
<g mask="url(#c5)">
<rect x="544.40" y="122.40" width="51.40" height="41.30" fill="#7e7e7e"/>
<g filter="url(#wmb)">
<ellipse cx="560.22" cy="139.91" rx="5.93" ry="6.19" fill="#ececec"/>
<path d="M 557.85 144.39 Q 556.65 148.66 553.34 152.92 M 555.52 148.80 L 558.70 154.47 M 556.68 143.11 Q 552.23 145.46 550.06 149.10 M 553.61 145.89 L 555.50 153.28 M 556.12 141.96 Q 553.29 143.61 549.23 145.41 M 553.21 143.42 L 548.91 140.52 M 555.78 139.76 Q 550.73 139.25 547.64 139.48 M 552.68 139.65 L 549.50 146.33 M 556.11 137.89 Q 553.55 136.87 548.86 134.34 M 553.54 136.63 L 551.45 130.68 M 556.60 136.83 Q 553.98 134.66 549.62 130.92 M 554.09 134.71 L 553.71 127.30 M 557.89 135.39 Q 555.95 131.68 553.41 126.72 M 556.03 131.79 L 549.41 132.69 M 559.63 134.65 Q 560.26 130.42 558.62 125.67 M 559.34 132.05 L 554.61 128.00 M 560.91 134.66 Q 562.33 129.17 562.10 125.54" fill="none" stroke="#ececec" stroke-width="1.9" stroke-linecap="round"/>
<path d="M 553.78 148.69 L 549.49 154.55 M 551.23 145.26 L 545.64 148.60 M 550.04 141.69 L 544.09 142.73 M 549.98 137.78 L 544.16 136.57 M 551.74 134.14 L 546.05 130.28 M 553.04 130.54 L 549.21 125.56 M 557.20 128.84 L 555.17 121.41 M 559.56 126.83 L 559.24 120.49 M 564.16 128.75 L 566.55 121.98" fill="none" stroke="#1a1a1a" stroke-width="0.9" opacity="0.9"/>
<ellipse cx="579.98" cy="139.91" rx="5.93" ry="6.19" fill="#ececec"/>
<path d="M 579.47 134.64 Q 577.83 130.55 578.58 125.38 M 580.83 134.70 Q 582.50 129.66 582.42 124.87 M 581.52 130.41 L 587.10 128.03 M 582.17 135.29 Q 583.36 131.66 586.05 127.09 M 583.69 132.07 L 580.22 125.90 M 583.27 136.34 Q 587.27 132.81 589.28 129.84 M 584.24 138.40 Q 587.42 138.10 592.27 135.56 M 588.35 136.95 L 591.94 142.93 M 584.43 139.84 Q 588.42 140.31 592.61 139.72 M 588.41 139.78 L 591.32 135.08 M 584.23 141.47 Q 587.96 141.93 592.19 144.41 M 587.84 142.81 L 588.35 150.48 M 583.14 143.63 Q 586.13 147.33 588.93 150.46 M 585.90 146.89 L 583.16 153.70 M 582.26 144.46 Q 584.51 149.23 586.12 152.21 M 583.40 146.76 L 580.37 153.51" fill="none" stroke="#ececec" stroke-width="1.9" stroke-linecap="round"/>
<path d="M 580.40 127.92 L 580.65 120.47 M 583.16 128.89 L 585.29 121.51 M 586.81 130.27 L 590.51 125.06 M 588.67 134.47 L 594.42 130.88 M 590.84 136.83 L 595.84 135.41 M 589.75 142.16 L 595.98 143.60 M 588.14 146.30 L 593.60 150.59 M 586.43 148.98 L 590.53 154.74 M 583.53 150.42 L 586.08 157.95" fill="none" stroke="#1a1a1a" stroke-width="0.9" opacity="0.9"/>
<rect x="560.22" y="137.55" width="19.76" height="3.14" fill="#ececec"/>
<ellipse cx="555.28" cy="154.84" rx="4.45" ry="2.20" fill="#ececec"/>
<path d="M 557.33 155.89 Q 559.78 156.11 561.37 157.97 M 558.90 156.70 L 557.93 159.22 M 554.21 156.35 Q 553.10 157.31 552.19 159.22 M 552.62 154.72 Q 550.07 154.28 548.09 154.51 M 550.43 154.62 L 548.95 153.22 M 554.40 153.28 Q 554.54 152.65 552.93 150.68 M 557.56 153.99 Q 560.55 154.14 561.94 152.36" fill="none" stroke="#ececec" stroke-width="1.4" stroke-linecap="round"/>
<ellipse cx="584.92" cy="154.84" rx="4.45" ry="2.20" fill="#ececec"/>
<path d="M 587.16 155.73 Q 588.66 155.85 591.50 157.46 M 589.43 156.64 L 592.33 155.42 M 584.02 156.39 Q 583.08 157.96 582.42 159.14 M 582.26 154.98 Q 580.51 154.33 577.57 155.23 M 579.87 155.11 L 578.30 153.39 M 584.27 153.24 Q 584.49 151.79 583.14 150.43 M 587.16 153.94 Q 588.22 154.25 591.14 152.34 M 589.01 153.19 L 588.30 151.01" fill="none" stroke="#ececec" stroke-width="1.4" stroke-linecap="round"/>
</g>
<rect x="545.40" y="123.40" width="50.40" height="40.30" fill="#fff" filter="url(#gy)" opacity="0.18"/>
<path d="M 570.10 123.40 C 583.93 123.40 593.32 128.12 594.31 139.12 C 594.80 146.98 594.31 156.81 590.85 160.74 C 587.39 162.70 580.97 162.70 577.02 160.34 L 563.18 160.34 C 559.23 162.70 552.81 162.70 549.35 160.74 C 545.89 156.81 545.40 146.98 545.89 139.12 C 546.88 128.12 556.27 123.40 570.10 123.40 Z" fill="none" stroke="#5a5a5a" stroke-width="2.4" opacity="0.5"/>
<ellipse cx="570.10" cy="143.05" rx="19.76" ry="13.75" fill="url(#wm)"/>
<line x1="570.10" y1="123.40" x2="570.10" y2="135.19" stroke="#111" stroke-width="1.2"/>
<path d="M 567.14 139.91 Q 570.10 143.05 573.06 139.91 L 571.58 143.84 L 568.62 143.84 Z" fill="#333"/>
<path d="M 545.40 150.91 Q 552.81 149.34 560.22 151.70" fill="none" stroke="#222" stroke-width="1.1" opacity="0.8"/>
<path d="M 594.80 150.91 Q 587.39 149.34 579.98 151.70" fill="none" stroke="#222" stroke-width="1.1" opacity="0.8"/>
<ellipse cx="556.00" cy="133.50" rx="11.50" ry="6.50" fill="url(#act)" filter="url(#irr)" opacity="1" transform="rotate(-35 556 133.5)"/>
<ellipse cx="549.00" cy="146.00" rx="3.50" ry="6.00" fill="url(#actr)" filter="url(#irr)" opacity="1"/>
<ellipse cx="568.50" cy="134.00" rx="2.20" ry="2.50" fill="url(#actr)" filter="url(#irr2)" opacity="1"/>
<ellipse cx="587.50" cy="136.00" rx="1.30" ry="1.50" fill="url(#actr)" filter="url(#irr2)" opacity="1"/>
<ellipse cx="548.00" cy="160.00" rx="2.00" ry="1.20" fill="url(#actr)" filter="url(#irr2)" opacity="1"/>
</g>
<ellipse cx="616.50" cy="165.50" rx="8.50" ry="7.50" fill="#8e8e8e"/>
<line x1="611.81" y1="159.50" x2="621.19" y2="159.90" stroke="#dadada" stroke-width="0.6"/>
<line x1="610.24" y1="161.00" x2="622.76" y2="161.40" stroke="#dadada" stroke-width="0.6"/>
<line x1="609.33" y1="162.50" x2="623.67" y2="162.90" stroke="#dadada" stroke-width="0.6"/>
<line x1="608.84" y1="164.00" x2="624.16" y2="164.40" stroke="#dadada" stroke-width="0.6"/>
<line x1="608.68" y1="165.50" x2="624.32" y2="165.90" stroke="#dadada" stroke-width="0.6"/>
<line x1="608.84" y1="167.00" x2="624.16" y2="167.40" stroke="#dadada" stroke-width="0.6"/>
<line x1="609.33" y1="168.50" x2="623.67" y2="168.90" stroke="#dadada" stroke-width="0.6"/>
<line x1="610.24" y1="170.00" x2="622.76" y2="170.40" stroke="#dadada" stroke-width="0.6"/>
<line x1="611.81" y1="171.50" x2="621.19" y2="171.90" stroke="#dadada" stroke-width="0.6"/>
<mask id="c6" maskUnits="userSpaceOnUse" x="600.9" y="122.1" width="64.5" height="49.5"><path d="M 604.90 148.93 C 604.90 136.47 616.20 126.10 630.32 126.10 C 647.27 126.10 661.40 134.40 661.40 144.78 C 661.40 151.83 658.57 157.22 654.62 159.30 C 651.23 161.38 650.10 164.69 645.58 166.35 C 639.93 168.43 633.15 167.60 626.37 164.69 C 621.85 162.62 616.20 161.79 611.68 160.13 C 607.73 158.47 604.90 155.15 604.90 148.93 Z" fill="#fff" filter="url(#bump)"/></mask>
<g mask="url(#c6)">
<rect x="603.90" y="125.10" width="58.50" height="43.50" fill="#7e7e7e"/>
<g filter="url(#wmb)">
<ellipse cx="633.15" cy="148.93" rx="16.95" ry="4.57" fill="#ececec"/>
<path d="M 623.50 147.17 Q 616.70 145.48 608.44 144.43 M 623.60 146.87 Q 616.61 145.80 609.85 143.90 M 617.05 145.45 L 616.29 136.31 M 624.58 144.94 Q 617.64 143.17 612.99 139.55 M 620.14 142.88 L 611.08 147.63 M 626.54 142.99 Q 621.98 137.65 616.71 134.16 M 622.89 139.71 L 612.14 140.51 M 627.83 142.19 Q 622.87 136.89 619.65 131.82 M 624.25 137.65 L 630.03 129.72 M 631.57 141.04 Q 631.20 135.51 629.23 129.43 M 632.69 140.94 Q 631.68 134.89 632.02 129.11 M 632.41 135.99 L 639.82 130.79 M 635.61 141.19 Q 637.19 134.89 639.45 129.08 M 637.39 135.55 L 626.87 130.01 M 636.98 141.56 Q 639.89 137.73 642.14 131.64 M 638.26 139.09 L 648.40 136.04 M 639.81 143.02 Q 644.79 138.46 648.49 135.31 M 641.93 141.13 L 640.69 132.52 M 641.73 144.95 Q 648.11 141.55 652.77 139.84 M 644.26 143.78 L 654.61 148.25 M 642.64 146.67 Q 648.57 145.88 655.19 143.69 M 645.45 146.01 L 650.72 138.44 M 643.01 148.36 Q 650.68 147.91 657.18 147.56" fill="none" stroke="#ececec" stroke-width="1.8" stroke-linecap="round"/>
<path d="M 615.21 145.32 L 602.99 142.87 M 614.07 140.82 L 605.64 137.25 M 616.61 138.53 L 608.62 133.51 M 622.65 135.18 L 616.83 127.56 M 625.37 132.63 L 621.96 125.50 M 629.56 133.16 L 627.52 124.23 M 635.35 132.38 L 636.47 123.96 M 640.72 132.73 L 644.13 125.44 M 642.67 136.23 L 649.25 127.45 M 647.05 139.28 L 656.72 132.56 M 650.91 140.81 L 660.20 136.56 M 651.89 145.30 L 663.37 143.08 M 653.13 150.04 L 664.15 150.66" fill="none" stroke="#1a1a1a" stroke-width="0.9" opacity="0.9"/>
<ellipse cx="639.93" cy="159.30" rx="7.46" ry="2.03" fill="#ececec"/>
<path d="M 643.63 159.10 Q 646.13 159.40 650.56 158.73 M 642.62 160.51 Q 645.74 160.98 647.80 162.83 M 645.23 161.68 L 649.65 161.03 M 640.01 161.04 Q 639.63 162.26 640.16 164.37 M 640.07 162.45 L 644.70 163.59 M 637.38 160.57 Q 635.06 162.24 633.06 162.73 M 635.55 161.49 L 636.91 163.54 M 636.23 159.10 Q 632.03 158.56 629.65 158.73 M 633.16 158.93 L 631.87 156.65" fill="none" stroke="#ececec" stroke-width="1.4" stroke-linecap="round"/>
<path d="M 625.24 152.66 Q 635.98 151.00 650.10 155.15" fill="none" stroke="#1e1e1e" stroke-width="1.1"/>
</g>
<rect x="604.90" y="126.10" width="57.50" height="42.50" fill="#fff" filter="url(#gy)" opacity="0.18"/>
<path d="M 604.90 148.93 C 604.90 136.47 616.20 126.10 630.32 126.10 C 647.27 126.10 661.40 134.40 661.40 144.78 C 661.40 151.83 658.57 157.22 654.62 159.30 C 651.23 161.38 650.10 164.69 645.58 166.35 C 639.93 168.43 633.15 167.60 626.37 164.69 C 621.85 162.62 616.20 161.79 611.68 160.13 C 607.73 158.47 604.90 155.15 604.90 148.93 Z" fill="none" stroke="#5a5a5a" stroke-width="2.4" opacity="0.5"/>
<ellipse cx="633.15" cy="147.68" rx="21.47" ry="13.28" fill="url(#wm)"/>
<path d="M 621.85 151.83 Q 633.15 149.34 645.58 155.98" fill="none" stroke="#333" stroke-width="1.3" opacity="0.8"/>
<ellipse cx="628.00" cy="132.50" rx="10.00" ry="7.00" fill="url(#act)" filter="url(#irr)" opacity="1"/>
<ellipse cx="627.00" cy="145.00" rx="1.50" ry="1.50" fill="url(#actr)" filter="url(#irr2)" opacity="1"/>
<ellipse cx="636.00" cy="146.00" rx="1.50" ry="1.50" fill="url(#actr)" filter="url(#irr2)" opacity="1"/>
<ellipse cx="605.50" cy="151.00" rx="1.50" ry="1.50" fill="url(#actr)" filter="url(#irr2)" opacity="1"/>
</g>
<mask id="c7" maskUnits="userSpaceOnUse" x="491.1" y="194.8" width="45.9" height="48.2"><path d="M 514.05 198.80 C 521.63 198.80 528.45 204.83 531.11 214.88 C 533.76 226.14 529.21 237.79 514.05 239.00 C 498.89 237.79 494.34 226.14 497.00 214.88 C 499.65 204.83 506.47 198.80 514.05 198.80 Z" fill="#fff" filter="url(#bump)"/></mask>
<g mask="url(#c7)">
<rect x="494.10" y="197.80" width="39.90" height="42.20" fill="#7e7e7e"/>
<g filter="url(#wmb)">
<ellipse cx="506.47" cy="219.70" rx="3.98" ry="11.06" fill="#ececec"/>
<path d="M 505.55 225.51 Q 504.34 231.12 503.84 236.35 M 504.98 229.13 L 500.95 232.99 M 504.56 224.69 Q 503.47 229.34 501.13 233.62 M 503.71 223.24 Q 501.72 227.03 498.20 230.27 M 501.11 226.56 L 501.77 234.80 M 503.22 221.54 Q 499.95 223.70 497.77 224.60 M 503.06 219.89 Q 499.26 220.43 497.17 220.22 M 500.62 220.03 L 498.20 225.28 M 503.24 217.79 Q 499.47 215.60 497.36 214.31 M 501.24 216.61 L 497.45 222.54 M 503.98 215.59 Q 500.88 211.99 499.78 208.66 M 502.58 213.27 L 502.94 205.65 M 504.77 214.47 Q 502.33 210.24 501.75 205.16 M 503.59 210.84 L 504.70 204.04 M 505.95 213.75 Q 505.04 208.08 505.08 203.80 M 505.68 210.67 L 508.37 204.78" fill="none" stroke="#ececec" stroke-width="1.9" stroke-linecap="round"/>
<path d="M 503.77 232.85 L 502.20 240.48 M 501.61 231.08 L 498.94 237.35 M 499.61 227.33 L 495.88 231.47 M 498.76 221.78 L 494.11 223.03 M 498.20 217.34 L 494.12 216.18 M 499.54 212.78 L 495.58 208.82 M 501.15 209.76 L 497.88 203.63 M 503.70 206.67 L 502.08 199.00 M 506.62 206.09 L 506.71 197.60" fill="none" stroke="#1a1a1a" stroke-width="0.9" opacity="0.9"/>
<ellipse cx="521.63" cy="219.70" rx="3.98" ry="11.06" fill="#ececec"/>
<path d="M 522.16 213.75 Q 521.89 208.90 523.20 201.90 M 522.69 207.65 L 526.19 204.49 M 523.17 214.33 Q 524.67 209.07 526.05 204.31 M 524.58 209.44 L 528.50 208.60 M 524.04 215.43 Q 526.37 210.69 528.56 207.42 M 524.80 217.47 Q 528.29 214.40 531.09 213.02 M 527.69 215.42 L 531.36 219.28 M 525.04 220.03 Q 527.47 221.00 531.46 220.65 M 528.33 220.35 L 529.82 227.82 M 524.80 221.94 Q 527.54 225.29 531.12 226.39 M 527.48 223.82 L 529.05 230.92 M 524.33 223.39 Q 525.64 226.64 529.08 229.86 M 526.14 225.85 L 526.63 232.84 M 523.47 224.79 Q 526.34 228.58 526.92 234.35 M 524.98 228.98 L 523.10 236.07 M 522.02 225.70 Q 522.27 232.33 522.77 237.47 M 522.35 230.81 L 518.52 235.87" fill="none" stroke="#ececec" stroke-width="1.9" stroke-linecap="round"/>
<path d="M 524.82 206.84 L 526.65 199.45 M 527.38 208.60 L 530.08 203.40 M 528.27 213.94 L 532.86 209.96 M 528.88 217.71 L 533.99 216.31 M 530.19 222.83 L 533.88 224.17 M 528.70 226.97 L 532.44 230.82 M 527.30 231.21 L 529.85 236.37 M 524.63 233.61 L 526.09 240.36 M 521.45 232.70 L 521.32 241.81" fill="none" stroke="#1a1a1a" stroke-width="0.9" opacity="0.9"/>
</g>
<rect x="495.10" y="198.80" width="38.90" height="41.20" fill="#fff" filter="url(#gy)" opacity="0.18"/>
<path d="M 514.05 198.80 C 521.63 198.80 528.45 204.83 531.11 214.88 C 533.76 226.14 529.21 237.79 514.05 239.00 C 498.89 237.79 494.34 226.14 497.00 214.88 C 499.65 204.83 506.47 198.80 514.05 198.80 Z" fill="none" stroke="#5a5a5a" stroke-width="2.4" opacity="0.5"/>
<ellipse cx="514.05" cy="220.91" rx="14.40" ry="16.08" fill="url(#wm)"/>
<line x1="514.05" y1="198.80" x2="514.05" y2="239.00" stroke="#111" stroke-width="1.2"/>
<ellipse cx="524.50" cy="222.00" rx="8.00" ry="14.00" fill="url(#act)" filter="url(#irr)" opacity="1"/>
<ellipse cx="503.00" cy="229.50" rx="8.00" ry="5.50" fill="url(#actr)" filter="url(#irr)" opacity="1" transform="rotate(25 503 229.5)"/>
<ellipse cx="514.10" cy="214.60" rx="1.60" ry="1.60" fill="url(#actr)" filter="url(#irr2)" opacity="1"/>
</g>
<rect x="563.00" y="224.00" width="13.50" height="19.00" rx="5.40" fill="#b4b4b4"/>
<mask id="c8" maskUnits="userSpaceOnUse" x="541.4" y="194.0" width="57.8" height="47.5"><path d="M 570.30 198.00 C 584.24 198.00 593.71 202.74 594.70 213.80 C 595.20 221.70 594.70 231.57 591.22 235.53 C 587.73 237.50 581.26 237.50 577.27 235.13 L 563.33 235.13 C 559.34 237.50 552.87 237.50 549.38 235.53 C 545.90 231.57 545.40 221.70 545.90 213.80 C 546.89 202.74 556.36 198.00 570.30 198.00 Z" fill="#fff" filter="url(#bump)"/></mask>
<g mask="url(#c8)">
<rect x="544.40" y="197.00" width="51.80" height="41.50" fill="#7e7e7e"/>
<g filter="url(#wmb)">
<ellipse cx="560.34" cy="214.59" rx="5.98" ry="6.22" fill="#ececec"/>
<path d="M 557.99 219.13 Q 555.50 223.31 553.82 227.21 M 556.11 222.78 L 550.26 222.01 M 556.67 217.66 Q 552.69 220.86 549.50 223.66 M 553.31 220.47 L 548.03 218.08 M 556.08 216.24 Q 552.94 216.66 548.79 219.07 M 552.83 217.50 L 548.96 212.27 M 555.87 214.22 Q 552.04 213.94 547.32 213.52 M 553.14 214.00 L 549.35 207.62 M 556.07 212.97 Q 551.46 212.00 547.60 209.75 M 552.77 211.71 L 547.57 215.16 M 557.09 210.92 Q 554.20 208.13 551.11 204.19 M 554.41 207.90 L 556.59 200.89 M 558.18 209.92 Q 555.56 206.37 554.46 201.89 M 557.07 207.52 L 550.79 206.78 M 559.44 209.37 Q 559.70 204.65 557.71 199.41 M 561.38 209.40 Q 561.66 206.00 563.19 200.35" fill="none" stroke="#ececec" stroke-width="1.9" stroke-linecap="round"/>
<path d="M 553.53 223.21 L 549.08 228.84 M 550.97 220.66 L 545.91 223.94 M 549.47 216.98 L 544.18 218.14 M 550.04 211.94 L 544.28 210.45 M 551.73 208.83 L 546.02 205.01 M 553.10 205.16 L 549.26 200.15 M 557.51 203.60 L 555.53 195.89 M 560.31 202.36 L 560.30 195.04 M 564.70 202.65 L 566.89 196.66" fill="none" stroke="#1a1a1a" stroke-width="0.9" opacity="0.9"/>
<ellipse cx="580.26" cy="214.59" rx="5.98" ry="6.22" fill="#ececec"/>
<path d="M 579.50 209.34 Q 577.85 204.03 578.19 200.36 M 579.09 206.57 L 573.19 203.74 M 581.41 209.44 Q 583.46 205.48 583.65 199.45 M 582.25 205.73 L 588.16 202.96 M 582.89 210.27 Q 584.11 207.44 587.60 202.54 M 583.78 211.29 Q 586.31 207.60 590.58 204.93 M 584.53 212.97 Q 588.68 211.47 591.85 210.20 M 587.01 212.04 L 589.63 206.53 M 584.73 214.20 Q 589.42 213.63 593.58 213.42 M 584.55 216.14 Q 587.58 217.79 591.87 218.78 M 588.22 217.46 L 591.79 214.00 M 583.63 218.10 Q 586.49 220.41 589.28 223.97 M 585.70 220.24 L 586.09 226.22 M 582.44 219.25 Q 584.73 223.33 586.22 227.30 M 583.96 222.48 L 589.41 223.14" fill="none" stroke="#ececec" stroke-width="1.9" stroke-linecap="round"/>
<path d="M 580.48 200.95 L 580.57 195.04 M 583.23 203.74 L 585.35 196.00 M 587.15 205.59 L 591.32 200.13 M 589.77 208.54 L 594.75 205.37 M 591.15 212.81 L 596.54 211.93 M 589.80 216.32 L 596.51 217.53 M 589.87 221.29 L 594.44 224.47 M 587.76 224.29 L 591.38 228.98 M 584.04 226.77 L 585.96 232.93" fill="none" stroke="#1a1a1a" stroke-width="0.9" opacity="0.9"/>
<rect x="560.34" y="212.22" width="19.92" height="3.16" fill="#ececec"/>
<ellipse cx="555.36" cy="229.60" rx="4.48" ry="2.21" fill="#ececec"/>
<path d="M 557.49 230.61 Q 558.51 232.25 561.62 232.57 M 559.55 231.59 L 559.36 233.54 M 554.33 231.13 Q 552.95 232.24 552.49 233.84 M 552.67 229.61 Q 550.77 229.10 548.16 229.62 M 554.29 228.08 Q 552.74 227.36 552.28 225.21 M 553.25 226.59 L 555.81 225.04 M 557.50 228.59 Q 559.62 227.59 561.75 226.59" fill="none" stroke="#ececec" stroke-width="1.4" stroke-linecap="round"/>
<ellipse cx="585.24" cy="229.60" rx="4.48" ry="2.21" fill="#ececec"/>
<path d="M 587.41 230.58 Q 590.05 230.52 591.60 232.48 M 589.05 231.32 L 592.61 230.54 M 584.64 231.22 Q 583.60 232.99 583.50 234.27 M 584.27 232.20 L 580.97 233.33 M 582.56 229.47 Q 581.36 228.82 577.78 229.24 M 584.65 227.98 Q 584.49 226.28 583.66 225.24 M 587.47 228.68 Q 588.83 228.02 591.91 226.84" fill="none" stroke="#ececec" stroke-width="1.4" stroke-linecap="round"/>
</g>
<rect x="545.40" y="198.00" width="50.80" height="40.50" fill="#fff" filter="url(#gy)" opacity="0.18"/>
<path d="M 570.30 198.00 C 584.24 198.00 593.71 202.74 594.70 213.80 C 595.20 221.70 594.70 231.57 591.22 235.53 C 587.73 237.50 581.26 237.50 577.27 235.13 L 563.33 235.13 C 559.34 237.50 552.87 237.50 549.38 235.53 C 545.90 231.57 545.40 221.70 545.90 213.80 C 546.89 202.74 556.36 198.00 570.30 198.00 Z" fill="none" stroke="#5a5a5a" stroke-width="2.4" opacity="0.5"/>
<ellipse cx="570.30" cy="217.75" rx="19.92" ry="13.82" fill="url(#wm)"/>
<line x1="570.30" y1="198.00" x2="570.30" y2="209.85" stroke="#111" stroke-width="1.2"/>
<path d="M 567.31 214.59 Q 570.30 217.75 573.29 214.59 L 571.79 218.54 L 568.81 218.54 Z" fill="#333"/>
<path d="M 545.40 225.65 Q 552.87 224.07 560.34 226.44" fill="none" stroke="#222" stroke-width="1.1" opacity="0.8"/>
<path d="M 595.20 225.65 Q 587.73 224.07 580.26 226.44" fill="none" stroke="#222" stroke-width="1.1" opacity="0.8"/>
<ellipse cx="585.50" cy="209.00" rx="8.50" ry="11.00" fill="url(#act)" filter="url(#irr)" opacity="1"/>
<ellipse cx="591.00" cy="222.00" rx="3.00" ry="4.00" fill="url(#actr)" filter="url(#irr)" opacity="1"/>
<ellipse cx="551.50" cy="210.00" rx="4.50" ry="5.00" fill="url(#actr)" filter="url(#irr)" opacity="1"/>
<ellipse cx="591.00" cy="233.30" rx="3.00" ry="2.00" fill="url(#actr)" filter="url(#irr2)" opacity="1"/>
<ellipse cx="568.00" cy="206.00" rx="1.20" ry="1.50" fill="url(#actr)" filter="url(#irr2)" opacity="1"/>
<ellipse cx="572.00" cy="212.00" rx="1.20" ry="1.50" fill="url(#actr)" filter="url(#irr2)" opacity="1"/>
</g>
<ellipse cx="616.50" cy="240.50" rx="8.30" ry="7.30" fill="#8e8e8e"/>
<line x1="611.86" y1="234.70" x2="621.14" y2="235.10" stroke="#dadada" stroke-width="0.6"/>
<line x1="610.33" y1="236.20" x2="622.67" y2="236.60" stroke="#dadada" stroke-width="0.6"/>
<line x1="609.45" y1="237.70" x2="623.55" y2="238.10" stroke="#dadada" stroke-width="0.6"/>
<line x1="608.99" y1="239.20" x2="624.01" y2="239.60" stroke="#dadada" stroke-width="0.6"/>
<line x1="608.87" y1="240.70" x2="624.13" y2="241.10" stroke="#dadada" stroke-width="0.6"/>
<line x1="609.07" y1="242.20" x2="623.93" y2="242.60" stroke="#dadada" stroke-width="0.6"/>
<line x1="609.64" y1="243.70" x2="623.36" y2="244.10" stroke="#dadada" stroke-width="0.6"/>
<line x1="610.66" y1="245.20" x2="622.34" y2="245.60" stroke="#dadada" stroke-width="0.6"/>
<mask id="c9" maskUnits="userSpaceOnUse" x="601.2" y="196.5" width="64.2" height="49.0"><path d="M 605.20 223.05 C 605.20 210.75 616.44 200.50 630.49 200.50 C 647.35 200.50 661.40 208.70 661.40 218.95 C 661.40 225.92 658.59 231.25 654.66 233.30 C 651.28 235.35 650.16 238.63 645.66 240.27 C 640.04 242.32 633.30 241.50 626.56 238.63 C 622.06 236.58 616.44 235.76 611.94 234.12 C 608.01 232.48 605.20 229.20 605.20 223.05 Z" fill="#fff" filter="url(#bump)"/></mask>
<g mask="url(#c9)">
<rect x="604.20" y="199.50" width="58.20" height="43.00" fill="#7e7e7e"/>
<g filter="url(#wmb)">
<ellipse cx="633.30" cy="223.05" rx="16.86" ry="4.51" fill="#ececec"/>
<path d="M 623.47 222.87 Q 617.72 222.42 610.64 222.62 M 618.53 222.77 L 613.61 230.06 M 624.47 219.57 Q 618.96 217.33 612.18 214.73 M 620.80 218.13 L 618.29 209.71 M 625.78 217.96 Q 620.17 214.71 616.06 211.38 M 626.21 217.58 Q 621.36 212.77 615.53 209.34 M 623.16 215.23 L 623.09 206.04 M 627.97 216.42 Q 624.93 213.18 620.86 207.56 M 631.89 215.24 Q 631.19 209.62 629.68 202.99 M 630.85 209.46 L 641.73 204.91 M 633.74 215.17 Q 634.40 209.76 634.41 202.94 M 634.04 209.60 L 622.32 205.96 M 635.12 215.29 Q 636.09 209.93 637.73 204.23 M 635.79 212.45 L 627.55 205.39 M 637.52 215.92 Q 641.36 210.38 644.15 204.72 M 640.31 217.51 Q 646.02 214.23 649.46 210.27 M 644.20 214.43 L 652.84 215.73 M 641.45 218.64 Q 648.02 214.54 653.31 212.22 M 645.86 216.25 L 644.11 206.75 M 642.35 219.95 Q 649.41 217.23 654.39 215.82 M 643.07 222.13 Q 648.73 220.77 656.42 220.87" fill="none" stroke="#ececec" stroke-width="1.8" stroke-linecap="round"/>
<path d="M 613.48 219.66 L 603.07 217.88 M 617.21 216.01 L 606.16 211.17 M 618.49 212.09 L 610.57 206.24 M 622.90 210.66 L 616.03 202.48 M 626.10 206.98 L 622.84 199.71 M 630.25 206.09 L 628.88 198.50 M 634.50 206.11 L 635.05 198.28 M 639.72 206.63 L 642.55 199.38 M 644.65 210.87 L 651.81 203.18 M 647.78 211.89 L 655.59 205.87 M 649.46 216.51 L 660.90 211.89 M 652.93 220.06 L 663.67 218.43 M 652.38 223.35 L 664.20 223.54" fill="none" stroke="#1a1a1a" stroke-width="0.9" opacity="0.9"/>
<ellipse cx="640.04" cy="233.30" rx="7.42" ry="2.01" fill="#ececec"/>
<path d="M 643.71 233.03 Q 647.03 232.65 650.80 232.50 M 646.74 232.80 L 648.83 230.72 M 642.95 234.37 Q 645.21 235.90 648.38 236.37 M 639.76 235.02 Q 638.60 236.42 639.21 238.44 M 639.57 236.22 L 635.52 237.75 M 637.31 234.47 Q 633.90 236.53 632.64 236.46 M 636.35 233.15 Q 633.64 233.75 629.01 232.85" fill="none" stroke="#ececec" stroke-width="1.4" stroke-linecap="round"/>
<path d="M 625.43 226.74 Q 636.11 225.10 650.16 229.20" fill="none" stroke="#1e1e1e" stroke-width="1.1"/>
</g>
<rect x="605.20" y="200.50" width="57.20" height="42.00" fill="#fff" filter="url(#gy)" opacity="0.18"/>
<path d="M 605.20 223.05 C 605.20 210.75 616.44 200.50 630.49 200.50 C 647.35 200.50 661.40 208.70 661.40 218.95 C 661.40 225.92 658.59 231.25 654.66 233.30 C 651.28 235.35 650.16 238.63 645.66 240.27 C 640.04 242.32 633.30 241.50 626.56 238.63 C 622.06 236.58 616.44 235.76 611.94 234.12 C 608.01 232.48 605.20 229.20 605.20 223.05 Z" fill="none" stroke="#5a5a5a" stroke-width="2.4" opacity="0.5"/>
<ellipse cx="633.30" cy="221.82" rx="21.36" ry="13.12" fill="url(#wm)"/>
<path d="M 622.06 225.92 Q 633.30 223.46 645.66 230.02" fill="none" stroke="#333" stroke-width="1.3" opacity="0.8"/>
<ellipse cx="627.50" cy="207.00" rx="10.50" ry="7.00" fill="url(#act)" filter="url(#irr)" opacity="1"/>
<ellipse cx="647.00" cy="212.00" rx="5.00" ry="4.00" fill="url(#actr)" filter="url(#irr)" opacity="1"/>
<ellipse cx="635.70" cy="224.00" rx="4.00" ry="3.50" fill="url(#actr)" filter="url(#irr)" opacity="1"/>
</g>
<mask id="c10" maskUnits="userSpaceOnUse" x="492.4" y="269.2" width="45.0" height="47.4"><path d="M 514.90 273.20 C 522.30 273.20 528.96 279.11 531.55 288.96 C 534.14 299.99 529.70 311.42 514.90 312.60 C 500.10 311.42 495.66 299.99 498.25 288.96 C 500.84 279.11 507.50 273.20 514.90 273.20 Z" fill="#fff" filter="url(#bump)"/></mask>
<g mask="url(#c10)">
<rect x="495.40" y="272.20" width="39.00" height="41.40" fill="#7e7e7e"/>
<g filter="url(#wmb)">
<ellipse cx="507.50" cy="293.69" rx="3.88" ry="10.84" fill="#ececec"/>
<path d="M 506.77 299.45 Q 505.32 305.63 505.51 309.43 M 506.38 302.56 L 502.34 306.00 M 505.90 298.87 Q 503.82 303.79 502.99 308.30 M 504.42 303.66 L 500.39 303.32 M 504.88 297.34 Q 502.58 301.50 500.11 304.00 M 502.59 300.54 L 498.72 296.84 M 504.40 295.86 Q 501.79 297.09 498.83 299.78 M 502.15 297.45 L 501.14 304.68 M 504.17 293.63 Q 501.23 293.83 497.70 293.51 M 500.94 293.57 L 498.84 299.94 M 504.33 291.85 Q 501.81 289.32 498.07 288.23 M 502.12 290.57 L 498.02 293.83 M 504.88 290.05 Q 502.38 286.99 500.09 283.41 M 503.07 287.54 L 504.02 279.03 M 505.77 288.64 Q 504.97 284.13 502.53 279.18 M 504.55 285.06 L 506.74 277.56 M 507.14 287.81 Q 507.23 283.71 506.50 277.30 M 506.91 284.02 L 502.90 280.29" fill="none" stroke="#ececec" stroke-width="1.9" stroke-linecap="round"/>
<path d="M 504.42 307.76 L 503.08 313.89 M 502.66 303.70 L 499.55 310.13 M 501.00 301.34 L 497.33 305.68 M 499.47 296.15 L 495.47 297.38 M 500.02 290.82 L 495.57 289.11 M 501.22 286.57 L 497.21 282.02 M 502.35 282.56 L 499.75 276.95 M 504.54 280.99 L 502.83 273.66 M 507.41 280.02 L 507.36 272.02" fill="none" stroke="#1a1a1a" stroke-width="0.9" opacity="0.9"/>
<ellipse cx="522.30" cy="293.69" rx="3.88" ry="10.84" fill="#ececec"/>
<path d="M 522.67 287.82 Q 523.28 282.36 523.36 277.05 M 524.10 288.72 Q 525.86 284.13 527.52 279.26 M 524.84 289.87 Q 528.21 286.35 529.40 283.02 M 527.13 286.43 L 530.89 289.85 M 525.47 291.88 Q 527.97 290.09 531.60 288.38 M 525.63 293.41 Q 529.62 294.33 531.50 292.93 M 525.38 295.95 Q 528.27 298.04 531.21 300.23 M 527.97 297.85 L 528.93 305.02 M 524.83 297.53 Q 527.07 300.93 529.81 305.07 M 524.17 298.57 Q 526.84 301.67 527.32 306.78 M 522.77 299.54 Q 522.54 305.93 523.67 310.75 M 523.18 304.65 L 520.45 309.80" fill="none" stroke="#ececec" stroke-width="1.9" stroke-linecap="round"/>
<path d="M 524.93 281.31 L 526.61 273.42 M 527.50 283.20 L 530.37 277.42 M 528.59 287.53 L 532.99 283.22 M 530.30 291.01 L 534.30 289.67 M 530.46 295.42 L 534.42 296.26 M 529.40 299.84 L 533.27 303.20 M 526.88 304.65 L 529.57 311.09 M 524.68 307.93 L 525.77 314.46 M 522.32 306.81 L 522.34 315.36" fill="none" stroke="#1a1a1a" stroke-width="0.9" opacity="0.9"/>
</g>
<rect x="496.40" y="273.20" width="38.00" height="40.40" fill="#fff" filter="url(#gy)" opacity="0.18"/>
<path d="M 514.90 273.20 C 522.30 273.20 528.96 279.11 531.55 288.96 C 534.14 299.99 529.70 311.42 514.90 312.60 C 500.10 311.42 495.66 299.99 498.25 288.96 C 500.84 279.11 507.50 273.20 514.90 273.20 Z" fill="none" stroke="#5a5a5a" stroke-width="2.4" opacity="0.5"/>
<ellipse cx="514.90" cy="294.87" rx="14.06" ry="15.76" fill="url(#wm)"/>
<line x1="514.90" y1="273.20" x2="514.90" y2="312.60" stroke="#111" stroke-width="1.2"/>
<ellipse cx="514.50" cy="307.50" rx="17.00" ry="5.00" fill="url(#actr)" filter="url(#irr)" opacity="1"/>
<ellipse cx="515.00" cy="308.50" rx="5.00" ry="2.50" fill="url(#acty)" filter="url(#irr2)" opacity="1"/>
<ellipse cx="502.80" cy="283.70" rx="3.50" ry="4.50" fill="url(#actr)" filter="url(#irr)" opacity="1"/>
<ellipse cx="526.10" cy="283.70" rx="3.50" ry="4.50" fill="url(#actr)" filter="url(#irr)" opacity="1"/>
<ellipse cx="514.10" cy="301.30" rx="2.50" ry="1.50" fill="url(#actr)" filter="url(#irr2)" opacity="1"/>
</g>
<ellipse cx="555.8" cy="312.5" rx="3.5" ry="3.5" fill="#777"/>
<ellipse cx="584.7" cy="312.5" rx="3.5" ry="3.5" fill="#777"/>
<mask id="c11" maskUnits="userSpaceOnUse" x="544.6" y="270.8" width="51.4" height="43.5"><path d="M 570.30 274.80 C 582.45 274.80 590.70 279.06 591.57 289.00 C 592.00 296.10 591.57 304.98 588.53 308.53 C 585.49 310.30 579.85 310.30 576.38 308.17 L 564.22 308.17 C 560.75 310.30 555.11 310.30 552.07 308.53 C 549.03 304.98 548.60 296.10 549.03 289.00 C 549.90 279.06 558.15 274.80 570.30 274.80 Z" fill="#fff" filter="url(#bump)"/></mask>
<g mask="url(#c11)">
<rect x="547.60" y="273.80" width="45.40" height="37.50" fill="#7e7e7e"/>
<g filter="url(#wmb)">
<ellipse cx="561.62" cy="289.71" rx="5.21" ry="5.59" fill="#ececec"/>
<path d="M 559.35 293.61 Q 557.68 298.04 555.32 300.52 M 557.47 296.83 L 559.63 302.13 M 558.41 292.44 Q 554.47 296.05 552.09 297.83 M 555.81 294.66 L 556.89 302.01 M 557.95 291.35 Q 555.43 294.00 550.69 294.61 M 557.73 290.20 Q 553.19 291.82 550.52 291.11 M 555.29 290.51 L 551.82 284.66 M 557.95 288.07 Q 555.47 286.22 551.50 285.18 M 558.71 286.52 Q 554.76 283.08 553.15 280.43 M 555.88 283.41 L 551.55 284.80 M 559.95 285.37 Q 558.37 280.17 556.72 276.95 M 558.57 281.78 L 552.63 281.99 M 561.30 284.93 Q 560.74 280.82 560.75 276.96 M 561.05 281.32 L 564.49 278.08 M 561.90 284.93 Q 562.63 279.37 562.43 275.92 M 562.15 280.71 L 566.00 277.67" fill="none" stroke="#ececec" stroke-width="1.9" stroke-linecap="round"/>
<path d="M 554.86 298.48 L 551.78 302.48 M 553.22 295.15 L 548.96 297.92 M 551.81 291.59 L 547.47 292.43 M 553.02 288.05 L 547.47 286.98 M 554.01 283.49 L 549.70 279.97 M 555.14 280.35 L 552.35 276.32 M 558.21 278.80 L 556.48 273.31 M 562.17 277.93 L 562.45 272.17 M 565.33 278.67 L 567.08 273.47" fill="none" stroke="#1a1a1a" stroke-width="0.9" opacity="0.9"/>
<ellipse cx="578.98" cy="289.71" rx="5.21" ry="5.59" fill="#ececec"/>
<path d="M 578.51 284.95 Q 578.30 281.14 577.63 275.94 M 578.12 280.97 L 581.24 276.78 M 579.30 284.93 Q 579.61 280.69 579.90 276.10 M 579.55 281.32 L 584.76 278.79 M 581.06 285.65 Q 583.01 282.74 585.02 277.92 M 582.77 282.32 L 580.62 276.58 M 581.95 286.60 Q 584.36 284.71 586.96 281.35 M 582.62 287.97 Q 586.74 286.48 589.68 284.61 M 585.73 286.49 L 589.89 290.92 M 582.87 289.27 Q 587.86 288.77 590.51 288.40 M 586.65 288.84 L 588.31 282.42 M 582.50 291.79 Q 585.62 294.93 589.12 295.71 M 585.60 293.62 L 586.13 299.54 M 581.89 292.91 Q 584.94 295.51 587.25 298.83 M 584.43 295.72 L 583.24 301.61 M 581.13 293.71 Q 581.77 296.57 584.71 300.39 M 582.84 296.90 L 580.52 301.71" fill="none" stroke="#ececec" stroke-width="1.9" stroke-linecap="round"/>
<path d="M 578.67 278.77 L 578.48 272.15 M 582.08 278.15 L 583.45 273.02 M 584.66 281.91 L 588.53 276.61 M 587.00 284.58 L 591.68 281.59 M 588.72 288.06 L 593.17 287.30 M 587.61 290.85 L 593.22 291.58 M 586.47 294.35 L 591.76 297.64 M 585.00 298.76 L 588.04 303.32 M 582.82 300.49 L 584.72 305.81" fill="none" stroke="#1a1a1a" stroke-width="0.9" opacity="0.9"/>
<rect x="561.62" y="287.58" width="17.36" height="2.84" fill="#ececec"/>
<ellipse cx="557.28" cy="303.20" rx="3.91" ry="1.99" fill="#ececec"/>
<path d="M 559.20 304.05 Q 560.20 305.67 562.56 305.54 M 560.91 304.81 L 560.73 306.41 M 556.52 304.61 Q 556.47 306.69 555.11 307.23 M 555.92 305.73 L 558.49 307.19 M 554.94 303.23 Q 553.01 303.47 550.82 303.27 M 556.41 301.82 Q 555.71 299.42 554.75 299.20 M 555.77 300.81 L 557.90 299.10 M 559.15 302.30 Q 560.46 302.14 562.36 300.76 M 560.62 301.60 L 560.43 299.91" fill="none" stroke="#ececec" stroke-width="1.4" stroke-linecap="round"/>
<ellipse cx="583.32" cy="303.20" rx="3.91" ry="1.99" fill="#ececec"/>
<path d="M 585.12 304.15 Q 587.05 306.21 588.68 306.03 M 586.47 304.86 L 589.68 304.44 M 582.68 304.63 Q 582.01 305.54 581.58 307.06 M 582.27 305.54 L 583.60 307.01 M 580.98 303.17 Q 577.98 303.87 577.04 303.11 M 579.05 303.14 L 577.81 304.65 M 582.52 301.80 Q 580.56 301.46 580.93 299.02 M 585.10 302.23 Q 586.83 300.64 588.66 300.29 M 586.45 301.49 L 586.33 299.38" fill="none" stroke="#ececec" stroke-width="1.4" stroke-linecap="round"/>
</g>
<rect x="548.60" y="274.80" width="44.40" height="36.50" fill="#fff" filter="url(#gy)" opacity="0.18"/>
<path d="M 570.30 274.80 C 582.45 274.80 590.70 279.06 591.57 289.00 C 592.00 296.10 591.57 304.98 588.53 308.53 C 585.49 310.30 579.85 310.30 576.38 308.17 L 564.22 308.17 C 560.75 310.30 555.11 310.30 552.07 308.53 C 549.03 304.98 548.60 296.10 549.03 289.00 C 549.90 279.06 558.15 274.80 570.30 274.80 Z" fill="none" stroke="#5a5a5a" stroke-width="2.4" opacity="0.5"/>
<ellipse cx="570.30" cy="292.55" rx="17.36" ry="12.42" fill="url(#wm)"/>
<line x1="570.30" y1="274.80" x2="570.30" y2="285.45" stroke="#111" stroke-width="1.2"/>
<path d="M 567.70 289.71 Q 570.30 292.55 572.90 289.71 L 571.60 293.26 L 569.00 293.26 Z" fill="#333"/>
<path d="M 548.60 299.65 Q 555.11 298.23 561.62 300.36" fill="none" stroke="#222" stroke-width="1.1" opacity="0.8"/>
<path d="M 592.00 299.65 Q 585.49 298.23 578.98 300.36" fill="none" stroke="#222" stroke-width="1.1" opacity="0.8"/>
<ellipse cx="553.60" cy="289.30" rx="5.50" ry="4.50" fill="url(#act)" filter="url(#irr)" opacity="1"/>
<ellipse cx="586.40" cy="290.00" rx="4.50" ry="4.00" fill="url(#act)" filter="url(#irr)" opacity="1"/>
</g>
<ellipse cx="617.50" cy="313.50" rx="6.50" ry="5.30" fill="#8e8e8e"/>
<line x1="613.33" y1="309.70" x2="621.67" y2="310.10" stroke="#dadada" stroke-width="0.6"/>
<line x1="612.11" y1="311.20" x2="622.89" y2="311.60" stroke="#dadada" stroke-width="0.6"/>
<line x1="611.59" y1="312.70" x2="623.41" y2="313.10" stroke="#dadada" stroke-width="0.6"/>
<line x1="611.57" y1="314.20" x2="623.43" y2="314.60" stroke="#dadada" stroke-width="0.6"/>
<line x1="612.06" y1="315.70" x2="622.94" y2="316.10" stroke="#dadada" stroke-width="0.6"/>
<line x1="613.22" y1="317.20" x2="621.78" y2="317.60" stroke="#dadada" stroke-width="0.6"/>
<mask id="c12" maskUnits="userSpaceOnUse" x="604.9" y="272.7" width="57.9" height="47.5"><path d="M 608.90 298.43 C 608.90 286.57 618.88 276.70 631.36 276.70 C 646.32 276.70 658.80 284.60 658.80 294.47 C 658.80 301.19 656.30 306.32 652.81 308.30 C 649.82 310.27 648.82 313.44 644.83 315.01 C 639.84 316.99 633.85 316.20 627.86 313.44 C 623.87 311.46 618.88 310.67 614.89 309.09 C 611.39 307.51 608.90 304.35 608.90 298.43 Z" fill="#fff" filter="url(#bump)"/></mask>
<g mask="url(#c12)">
<rect x="607.90" y="275.70" width="51.90" height="41.50" fill="#7e7e7e"/>
<g filter="url(#wmb)">
<ellipse cx="633.85" cy="298.43" rx="14.97" ry="4.35" fill="#ececec"/>
<path d="M 625.15 297.79 Q 619.12 297.71 613.26 296.92 M 620.99 297.49 L 616.64 290.14 M 625.45 296.34 Q 618.81 295.51 612.30 293.06 M 626.53 294.28 Q 621.54 290.70 616.26 288.45 M 622.63 292.07 L 623.17 283.71 M 628.37 292.51 Q 623.88 287.81 620.85 284.40 M 625.43 289.33 L 616.32 290.61 M 630.09 291.56 Q 628.31 288.01 624.99 282.23 M 628.00 287.74 L 633.18 281.36 M 631.50 291.10 Q 630.05 285.49 628.38 281.39 M 634.75 290.86 Q 635.50 285.78 636.14 279.07 M 635.25 286.58 L 626.10 281.10 M 636.54 291.19 Q 638.86 285.12 640.18 281.41 M 637.94 287.44 L 645.52 284.78 M 638.59 292.04 Q 642.64 285.94 645.93 282.17 M 641.45 288.19 L 650.37 286.80 M 639.33 292.50 Q 642.45 288.62 647.90 283.23 M 641.78 289.85 L 641.01 280.86 M 640.65 293.66 Q 645.28 291.22 649.77 287.27 M 644.90 290.68 L 652.13 292.67 M 641.99 295.67 Q 647.98 293.32 653.02 291.93 M 642.39 296.85 Q 649.46 294.49 655.80 294.38 M 646.11 296.17 L 654.76 302.52" fill="none" stroke="#ececec" stroke-width="1.8" stroke-linecap="round"/>
<path d="M 617.57 295.95 L 606.82 294.31 M 618.46 291.39 L 609.55 287.32 M 621.00 287.69 L 614.05 281.88 M 625.28 286.37 L 619.41 278.10 M 628.20 285.29 L 624.22 276.05 M 630.84 282.28 L 629.45 274.84 M 636.90 283.41 L 638.63 274.89 M 638.63 284.94 L 641.94 275.59 M 645.48 285.47 L 650.75 279.60 M 645.98 289.24 L 654.55 282.74 M 649.34 292.35 L 658.87 288.61 M 651.44 295.68 L 660.87 294.21 M 652.12 298.99 L 661.28 299.27" fill="none" stroke="#1a1a1a" stroke-width="0.9" opacity="0.9"/>
<ellipse cx="639.84" cy="308.30" rx="6.59" ry="1.94" fill="#ececec"/>
<path d="M 643.11 308.09 Q 645.06 307.29 648.63 307.74 M 642.34 309.38 Q 644.39 311.06 647.25 311.51 M 644.99 310.53 L 648.77 309.65 M 640.15 309.95 Q 641.24 311.07 640.70 312.95 M 637.19 309.29 Q 635.47 309.05 632.43 311.06 M 635.37 309.97 L 631.27 309.27 M 636.61 307.98 Q 634.12 308.07 630.76 307.39 M 633.87 307.70 L 632.97 305.51" fill="none" stroke="#ececec" stroke-width="1.4" stroke-linecap="round"/>
<path d="M 626.86 301.98 Q 636.35 300.40 648.82 304.35" fill="none" stroke="#1e1e1e" stroke-width="1.1"/>
</g>
<rect x="608.90" y="276.70" width="50.90" height="40.50" fill="#fff" filter="url(#gy)" opacity="0.18"/>
<path d="M 608.90 298.43 C 608.90 286.57 618.88 276.70 631.36 276.70 C 646.32 276.70 658.80 284.60 658.80 294.47 C 658.80 301.19 656.30 306.32 652.81 308.30 C 649.82 310.27 648.82 313.44 644.83 315.01 C 639.84 316.99 633.85 316.20 627.86 313.44 C 623.87 311.46 618.88 310.67 614.89 309.09 C 611.39 307.51 608.90 304.35 608.90 298.43 Z" fill="none" stroke="#5a5a5a" stroke-width="2.4" opacity="0.5"/>
<ellipse cx="633.85" cy="297.24" rx="18.96" ry="12.64" fill="url(#wm)"/>
<path d="M 623.87 301.19 Q 633.85 298.82 644.83 305.14" fill="none" stroke="#333" stroke-width="1.3" opacity="0.8"/>
<ellipse cx="620.80" cy="282.60" rx="8.00" ry="4.00" fill="url(#actr)" filter="url(#irr)" opacity="1"/>
<ellipse cx="641.50" cy="288.50" rx="9.00" ry="7.00" fill="url(#act)" filter="url(#irr)" opacity="1"/>
<ellipse cx="611.90" cy="290.80" rx="2.50" ry="5.00" fill="url(#actr)" filter="url(#irr2)" opacity="1"/>
<ellipse cx="617.10" cy="305.00" rx="4.00" ry="3.00" fill="url(#actr)" filter="url(#irr)" opacity="1"/>
</g>
<text x="579.20" y="44.30" font-size="9.3" text-anchor="middle" font-weight="normal" fill="#f2f2f2">Component 13</text>
<text x="579.20" y="118.00" font-size="9.3" text-anchor="middle" font-weight="normal" fill="#f2f2f2">Component 20</text>
<text x="579.20" y="192.50" font-size="9.3" text-anchor="middle" font-weight="normal" fill="#f2f2f2">Component 5</text>
<text x="579.20" y="266.50" font-size="9.3" text-anchor="middle" font-weight="normal" fill="#f2f2f2">Component 2</text>
<text x="487.60" y="323.60" font-size="10" text-anchor="start" font-weight="bold" fill="#fff">L</text>
<text x="596.30" y="323.60" font-size="10" text-anchor="start" font-weight="bold" fill="#fff">R</text>
<defs><linearGradient id="cb" x1="0" x2="1" y1="0" y2="0"><stop offset="0" stop-color="#000"/><stop offset="0.1" stop-color="#1e0000"/><stop offset="0.25" stop-color="#8a0000"/><stop offset="0.38" stop-color="#ff1a00"/><stop offset="0.5" stop-color="#ff4a00"/><stop offset="0.6" stop-color="#ff9010"/><stop offset="0.72" stop-color="#f2e030"/><stop offset="0.86" stop-color="#ffff78"/><stop offset="0.97" stop-color="#ffffe8"/><stop offset="1" stop-color="#ffffff"/></linearGradient></defs>
<rect x="498.60" y="334.10" width="161.20" height="6.50" fill="url(#cb)" stroke="#888" stroke-width="0.3"/>
<text x="498.60" y="345.20" font-size="3.6" text-anchor="middle" font-weight="normal" fill="#bbb">0</text>
<text x="538.90" y="345.20" font-size="3.6" text-anchor="middle" font-weight="normal" fill="#bbb">5</text>
<text x="579.20" y="345.20" font-size="3.6" text-anchor="middle" font-weight="normal" fill="#bbb">10</text>
<text x="619.50" y="345.20" font-size="3.6" text-anchor="middle" font-weight="normal" fill="#bbb">15</text>
<text x="659.80" y="345.20" font-size="3.6" text-anchor="middle" font-weight="normal" fill="#bbb">20</text>
</svg></body></html>
